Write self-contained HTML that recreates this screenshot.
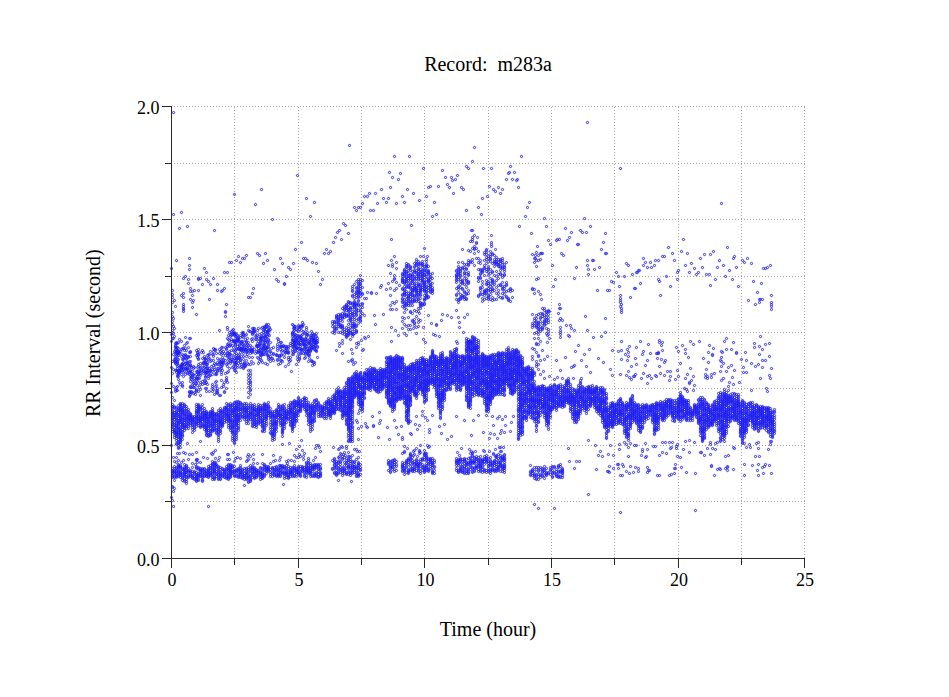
<!DOCTYPE html>
<html><head><meta charset="utf-8"><style>html,body{margin:0;padding:0;background:#fff;overflow:hidden}svg{display:block}</style></head>
<body><svg width="949" height="697" viewBox="0 0 949 697">
<rect width="949" height="697" fill="#fff"/>
<path d="M174 501.5H805M174 445.5H805M174 388.5H805M174 332.5H805M174 276.5H805M174 219.5H805M174 163.5H805M174 106.5H805M234.5 558V106M298.5 558V106M361.5 558V106M424.5 558V106M488.5 558V106M551.5 558V106M614.5 558V106M678.5 558V106M741.5 558V106M804.5 558V106" stroke="#a8a8a8" stroke-width="1" stroke-dasharray="1 2" fill="none" shape-rendering="crispEdges"/>
<defs><marker id="m" markerUnits="userSpaceOnUse" markerWidth="6" markerHeight="6" refX="3" refY="3" overflow="visible"><circle cx="3.5" cy="3.5" r="1.1" fill="none" stroke="#1e1ef0" stroke-width="0.9"/></marker></defs><path d="M171 268 171 334 171 341 171 367 171 383 171 392 171 445 171 497 172 290 172 294 172 297 172 302 172 312 172 316 172 321 172 324 172 330 172 332 172 338 172 361 172 373 172 397 172 404 172 406 172 407 172 408 172 411 172 412 172 413 172 414 172 415 172 417 172 418 172 419 172 420 172 422 172 423 172 424 172 426 172 427 172 429 172 431 172 468 172 470 172 471 172 472 172 473 172 475 172 476 172 477 172 486 172 487 172 500 173 112 173 214 173 318 173 326 173 333 173 338 173 354 173 369 173 386 173 457 173 491 173 506 174 300 174 328 174 336 174 351 174 359 174 361 174 400 174 406 174 407 174 410 174 412 174 414 174 415 174 416 174 417 174 419 174 422 174 424 174 425 174 427 174 429 174 430 174 431 174 432 174 433 174 435 174 437 174 461 174 466 174 468 174 470 174 471 174 472 174 473 174 476 174 477 174 480 174 488 175 306 175 343 175 345 175 346 175 347 175 349 175 352 175 356 175 358 175 359 175 361 175 362 175 363 175 370 175 389 175 391 176 260 176 342 176 343 176 347 176 349 176 351 176 352 176 353 176 355 176 364 176 370 176 372 176 387 176 390 176 407 176 408 176 411 176 412 176 413 176 414 176 415 176 417 176 418 176 419 176 420 176 422 176 423 176 425 176 426 176 427 176 428 176 430 176 431 176 432 176 433 176 434 176 435 176 436 176 438 176 440 176 443 176 444 176 457 176 462 176 467 176 468 176 470 176 471 176 473 176 474 176 475 176 476 176 477 177 343 177 347 177 350 177 351 177 352 177 353 177 356 177 359 177 361 177 362 177 363 177 366 177 368 177 370 177 375 177 376 177 386 177 390 177 453 178 342 178 348 178 351 178 352 178 353 178 355 178 359 178 365 178 370 178 372 178 373 178 374 178 376 178 379 178 405 178 408 178 409 178 410 178 412 178 414 178 415 178 416 178 418 178 420 178 421 178 422 178 423 178 424 178 425 178 427 178 428 178 429 178 430 178 432 178 433 178 434 178 436 178 437 178 439 178 441 178 442 178 443 178 445 178 447 178 448 178 460 178 464 178 465 178 466 178 467 178 468 178 470 178 471 178 472 178 474 178 475 178 476 179 228 179 339 179 352 179 353 179 370 179 371 179 372 179 382 179 453 180 351 180 366 180 367 180 369 180 370 180 371 180 384 180 403 180 404 180 405 180 406 180 407 180 408 180 409 180 410 180 411 180 412 180 414 180 415 180 416 180 417 180 418 180 419 180 420 180 421 180 422 180 424 180 427 180 428 180 430 180 431 180 432 180 433 180 434 180 435 180 436 180 437 180 438 180 439 180 440 180 441 180 442 180 444 180 447 180 465 180 466 180 467 180 468 180 471 180 472 180 473 180 474 180 475 180 477 181 212 181 295 181 341 181 349 181 356 181 364 181 365 181 366 181 367 181 369 181 374 181 462 182 348 182 354 182 359 182 363 182 364 182 365 182 367 182 370 182 382 182 385 182 386 182 403 182 405 182 407 182 408 182 409 182 410 182 411 182 412 182 413 182 414 182 417 182 418 182 419 182 421 182 422 182 423 182 424 182 425 182 426 182 427 182 429 182 431 182 432 182 434 182 435 182 436 182 439 182 468 182 469 182 471 182 474 182 475 182 477 182 478 182 480 183 278 183 293 183 297 183 304 183 306 183 308 183 309 183 311 183 348 183 355 183 358 183 359 183 362 183 368 183 369 183 372 183 376 183 452 183 460 184 345 184 350 184 356 184 364 184 371 184 404 184 405 184 406 184 408 184 410 184 411 184 413 184 414 184 415 184 416 184 418 184 419 184 420 184 422 184 424 184 425 184 426 184 427 184 428 184 430 184 464 184 467 184 468 184 469 184 470 184 471 184 472 184 473 184 474 184 475 184 476 184 478 184 480 184 481 185 276 185 337 185 348 185 354 185 355 185 357 185 363 185 366 185 368 185 374 185 453 186 343 186 350 186 358 186 359 186 362 186 365 186 368 186 369 186 406 186 408 186 410 186 411 186 413 186 414 186 416 186 417 186 418 186 419 186 421 186 422 186 424 186 425 186 426 186 428 186 465 186 466 186 467 186 468 186 470 186 471 186 472 186 474 186 476 186 477 186 479 186 481 186 483 187 226 187 342 187 356 187 362 187 363 187 368 187 369 187 372 187 373 187 443 188 279 188 283 188 347 188 356 188 357 188 364 188 365 188 370 188 409 188 411 188 412 188 414 188 415 188 416 188 417 188 418 188 419 188 420 188 421 188 423 188 424 188 426 188 428 188 459 188 468 188 470 188 471 188 472 188 475 188 476 188 477 189 258 189 265 189 269 189 338 189 352 189 361 189 367 189 372 189 374 189 391 189 392 189 395 189 396 189 454 190 288 190 291 190 299 190 338 190 351 190 352 190 356 190 361 190 364 190 365 190 366 190 370 190 371 190 372 190 375 190 378 190 381 190 386 190 387 190 392 190 394 190 413 190 414 190 415 190 416 190 417 190 418 190 419 190 420 190 422 190 423 190 425 190 470 190 471 190 472 190 474 190 475 190 476 191 367 191 376 191 377 191 379 191 387 191 391 191 392 192 291 192 295 192 302 192 307 192 371 192 374 192 377 192 384 192 416 192 417 192 418 192 419 192 420 192 421 192 422 192 424 192 425 192 427 192 429 192 432 192 454 192 463 192 467 192 471 192 473 192 475 192 476 192 477 192 478 193 300 193 366 193 368 193 374 193 375 193 381 193 383 193 387 193 393 194 290 194 367 194 378 194 380 194 385 194 387 194 392 194 416 194 418 194 419 194 421 194 422 194 424 194 425 194 427 194 428 194 430 194 471 194 472 194 473 194 476 194 478 194 479 195 383 195 394 195 464 196 314 196 350 196 355 196 371 196 374 196 377 196 378 196 380 196 383 196 389 196 390 196 391 196 404 196 406 196 408 196 410 196 411 196 412 196 413 196 415 196 416 196 417 196 418 196 419 196 421 196 422 196 423 196 424 196 426 196 452 196 459 196 460 196 466 196 467 196 468 196 472 196 474 196 475 196 476 196 477 196 478 196 479 196 480 196 481 197 352 197 354 197 357 197 367 197 371 197 372 197 376 197 378 197 381 197 385 197 459 197 462 198 278 198 279 198 290 198 349 198 352 198 354 198 355 198 358 198 359 198 364 198 366 198 370 198 372 198 374 198 378 198 391 198 404 198 405 198 406 198 407 198 408 198 409 198 410 198 411 198 412 198 413 198 415 198 416 198 418 198 419 198 420 198 421 198 423 198 425 198 467 198 468 198 469 198 473 198 474 198 475 198 476 198 477 198 479 198 480 199 371 199 374 199 378 199 387 200 278 200 363 200 367 200 368 200 371 200 373 200 375 200 382 200 384 200 389 200 395 200 406 200 407 200 408 200 409 200 412 200 415 200 416 200 417 200 418 200 419 200 420 200 421 200 422 200 423 200 425 200 426 200 427 200 441 200 462 200 468 200 469 200 470 200 471 200 472 200 474 200 475 200 476 201 352 201 370 202 284 202 350 202 358 202 365 202 381 202 384 202 404 202 407 202 410 202 412 202 413 202 414 202 416 202 417 202 418 202 419 202 421 202 424 202 425 202 426 202 468 202 469 202 470 202 472 202 473 202 475 202 476 202 477 202 479 202 480 202 481 203 352 203 362 203 363 203 368 203 370 203 371 203 373 203 457 204 268 204 356 204 358 204 361 204 362 204 363 204 367 204 380 204 383 204 408 204 410 204 412 204 413 204 414 204 415 204 416 204 417 204 418 204 419 204 420 204 421 204 423 204 424 204 425 204 426 204 427 204 429 204 468 204 469 204 471 204 472 204 473 204 475 204 476 205 358 205 359 205 366 205 372 205 373 205 376 205 377 205 380 205 383 205 388 206 272 206 279 206 360 206 363 206 364 206 368 206 370 206 371 206 372 206 375 206 382 206 388 206 391 206 411 206 412 206 413 206 414 206 415 206 416 206 417 206 418 206 419 206 421 206 422 206 423 206 425 206 426 206 427 206 428 206 429 206 430 206 431 206 432 206 434 206 435 206 470 206 471 206 473 206 474 206 475 206 476 207 355 207 362 207 364 207 367 207 368 207 372 207 384 207 458 208 281 208 354 208 357 208 359 208 370 208 373 208 376 208 378 208 413 208 414 208 416 208 417 208 418 208 419 208 420 208 421 208 422 208 424 208 425 208 426 208 428 208 430 208 432 208 434 208 435 208 436 208 466 208 468 208 469 208 470 208 471 208 472 208 473 208 474 208 475 208 476 208 477 208 506 209 299 209 354 209 358 209 368 209 370 209 372 209 375 209 391 210 284 210 351 210 361 210 370 210 371 210 375 210 411 210 412 210 413 210 414 210 415 210 416 210 417 210 418 210 421 210 422 210 423 210 425 210 426 210 428 210 430 210 431 210 433 210 434 210 435 210 465 210 467 210 468 210 470 210 472 210 473 210 474 210 475 211 360 211 366 211 453 212 354 212 369 212 371 212 374 212 384 212 386 212 388 212 391 212 408 212 410 212 411 212 412 212 413 212 414 212 415 212 416 212 417 212 418 212 419 212 420 212 421 212 423 212 424 212 425 212 426 212 428 212 429 212 430 212 431 212 454 212 461 212 463 212 464 212 466 212 467 212 468 212 470 212 471 212 473 212 474 212 476 212 477 212 479 213 278 213 348 213 351 213 354 213 356 213 360 213 365 213 389 213 452 213 464 214 230 214 349 214 363 214 367 214 369 214 394 214 413 214 414 214 415 214 416 214 418 214 419 214 420 214 421 214 422 214 423 214 425 214 426 214 428 214 429 214 430 214 462 214 463 214 465 214 467 214 468 214 469 214 470 214 471 214 472 214 473 214 476 214 477 214 478 214 479 215 349 215 350 215 364 215 371 215 374 215 382 215 386 215 450 215 458 215 462 215 465 216 353 216 373 216 374 216 381 216 385 216 390 216 392 216 413 216 414 216 416 216 417 216 419 216 420 216 421 216 423 216 425 216 427 216 429 216 430 216 432 216 433 216 464 216 465 216 466 216 469 216 471 216 473 216 474 216 476 217 284 217 290 217 358 217 362 217 364 217 368 217 370 217 371 217 388 217 390 217 392 217 393 218 364 218 368 218 410 218 412 218 414 218 415 218 416 218 417 218 419 218 420 218 421 218 422 218 424 218 425 218 427 218 428 218 429 218 431 218 432 218 434 218 435 218 437 218 439 218 441 218 460 218 466 218 467 218 468 218 470 218 471 218 472 218 474 218 475 218 477 218 478 218 479 219 330 219 349 219 353 219 360 219 370 219 395 219 457 220 351 220 359 220 361 220 362 220 363 220 366 220 369 220 395 220 408 220 410 220 411 220 412 220 413 220 415 220 416 220 418 220 419 220 420 220 421 220 422 220 423 220 424 220 425 220 426 220 428 220 430 220 431 220 433 220 467 220 469 220 472 220 473 220 474 220 475 220 476 220 478 220 479 221 291 221 347 221 350 221 354 221 362 221 364 221 366 221 368 221 372 221 374 221 380 221 387 222 290 222 347 222 353 222 357 222 362 222 365 222 370 222 410 222 411 222 412 222 414 222 415 222 417 222 418 222 419 222 421 222 422 222 423 222 424 222 425 222 426 222 468 222 469 222 471 222 474 222 475 222 476 223 351 223 359 223 360 223 362 223 363 223 384 223 386 224 272 224 288 224 353 224 382 224 391 224 392 224 407 224 408 224 409 224 411 224 412 224 413 224 415 224 416 224 418 224 420 224 422 224 469 224 470 224 471 224 472 224 473 224 474 224 476 224 477 225 311 225 312 225 316 225 347 225 355 225 360 225 373 226 304 226 348 226 349 226 364 226 377 226 379 226 380 226 388 226 403 226 406 226 407 226 408 226 409 226 410 226 412 226 413 226 414 226 415 226 416 226 418 226 419 226 421 226 466 226 468 226 469 226 470 226 473 226 474 226 476 226 477 226 478 227 272 227 327 227 329 227 338 227 344 227 346 227 352 227 353 227 355 227 356 227 363 227 366 227 372 227 382 227 454 227 459 228 335 228 339 228 343 228 345 228 359 228 362 228 371 228 404 228 405 228 407 228 409 228 410 228 411 228 413 228 414 228 415 228 416 228 417 228 418 228 419 228 420 228 421 228 423 228 425 228 427 228 454 228 464 228 465 228 467 228 468 228 469 228 470 228 472 228 473 228 475 228 476 228 477 228 478 228 479 229 262 229 332 229 340 229 346 229 351 229 353 229 354 229 357 229 358 229 368 229 459 230 334 230 336 230 344 230 345 230 354 230 361 230 363 230 403 230 405 230 406 230 407 230 409 230 410 230 412 230 413 230 415 230 416 230 418 230 419 230 420 230 421 230 422 230 424 230 425 230 427 230 428 230 430 230 464 230 465 230 466 230 467 230 468 230 469 230 470 230 471 230 472 230 473 230 474 230 475 230 476 230 477 231 262 231 331 231 335 231 339 231 341 231 350 231 355 231 359 231 361 232 330 232 333 232 334 232 345 232 359 232 361 232 367 232 404 232 405 232 407 232 409 232 410 232 411 232 412 232 413 232 415 232 417 232 420 232 421 232 422 232 424 232 425 232 426 232 427 232 428 232 430 232 431 232 432 232 433 232 436 232 438 232 440 232 465 232 466 232 467 232 469 232 471 232 472 232 473 233 329 233 333 233 340 233 341 233 347 233 350 233 357 233 366 233 452 234 194 234 332 234 333 234 334 234 335 234 340 234 341 234 342 234 351 234 354 234 358 234 362 234 364 234 368 234 370 234 402 234 403 234 405 234 407 234 408 234 409 234 410 234 411 234 412 234 414 234 415 234 416 234 417 234 419 234 420 234 421 234 423 234 424 234 425 234 427 234 428 234 431 234 432 234 434 234 435 234 437 234 439 234 440 234 442 234 443 234 461 234 466 234 470 234 471 234 472 234 474 234 475 234 476 235 333 235 336 235 342 235 344 235 345 235 350 235 360 235 362 235 363 235 364 235 367 235 370 235 458 236 260 236 334 236 336 236 339 236 340 236 342 236 348 236 349 236 353 236 355 236 357 236 358 236 359 236 362 236 372 236 401 236 402 236 403 236 405 236 406 236 407 236 408 236 409 236 410 236 411 236 413 236 414 236 415 236 416 236 417 236 418 236 419 236 420 236 421 236 422 236 423 236 424 236 425 236 427 236 429 236 430 236 432 236 433 236 435 236 437 236 439 236 469 236 470 236 471 236 472 236 475 236 476 237 335 237 338 237 340 237 346 237 358 237 365 237 367 237 457 238 256 238 337 238 338 238 339 238 340 238 341 238 348 238 349 238 355 238 357 238 360 238 363 238 401 238 402 238 404 238 405 238 406 238 408 238 409 238 410 238 412 238 414 238 415 238 416 238 417 238 418 238 419 238 420 238 421 238 423 238 425 238 427 238 428 238 430 238 468 238 469 238 470 238 471 238 474 238 475 238 476 238 477 239 341 239 344 239 345 239 347 239 349 239 354 239 357 239 358 240 262 240 335 240 337 240 348 240 349 240 352 240 359 240 360 240 362 240 367 240 402 240 403 240 404 240 407 240 408 240 409 240 411 240 413 240 414 240 416 240 417 240 420 240 458 240 465 240 467 240 468 240 470 240 471 240 472 240 473 240 474 240 476 240 477 241 341 241 342 241 343 241 348 241 349 241 350 241 356 241 364 241 366 242 258 242 332 242 333 242 336 242 341 242 344 242 347 242 348 242 404 242 405 242 407 242 408 242 410 242 411 242 414 242 416 242 417 242 469 242 470 242 472 242 473 242 474 242 476 242 477 242 478 243 332 243 334 243 335 243 337 243 345 243 349 243 350 243 351 243 353 243 356 243 359 243 364 243 367 243 368 244 258 244 342 244 345 244 348 244 349 244 362 244 363 244 364 244 366 244 403 244 405 244 407 244 408 244 409 244 410 244 412 244 413 244 415 244 416 244 417 244 419 244 468 244 470 244 473 244 475 244 476 244 477 244 479 244 485 245 335 245 339 245 349 245 365 245 366 246 255 246 334 246 341 246 342 246 345 246 347 246 349 246 351 246 352 246 356 246 360 246 403 246 405 246 407 246 408 246 409 246 410 246 411 246 412 246 413 246 415 246 416 246 417 246 419 246 421 246 423 246 461 246 468 246 469 246 471 246 472 246 473 246 474 246 475 246 477 246 478 246 479 247 338 247 344 247 348 247 351 247 354 247 363 247 456 247 460 248 297 248 326 248 330 248 342 248 345 248 350 248 364 248 370 248 374 248 377 248 380 248 383 248 387 248 392 248 397 248 405 248 407 248 408 248 410 248 412 248 414 248 415 248 416 248 417 248 419 248 420 248 423 248 454 248 459 248 467 248 469 248 471 248 472 248 475 248 476 248 477 248 478 248 481 248 482 249 331 249 347 249 351 249 357 250 297 250 331 250 345 250 349 250 350 250 353 250 364 250 370 250 373 250 375 250 378 250 381 250 382 250 384 250 386 250 389 250 390 250 394 250 403 250 405 250 407 250 408 250 411 250 412 250 413 250 414 250 416 250 417 250 419 250 456 250 465 250 468 250 469 250 470 250 473 250 475 250 476 250 478 250 479 250 480 250 481 251 339 251 349 251 351 251 361 252 293 252 328 252 332 252 333 252 334 252 338 252 341 252 347 252 349 252 350 252 351 252 352 252 357 252 405 252 406 252 408 252 409 252 410 252 412 252 413 252 414 252 416 252 417 252 419 252 420 252 422 252 423 252 425 252 426 252 466 252 467 252 468 252 469 252 471 252 472 252 473 252 474 252 477 253 288 253 328 253 330 253 331 253 363 253 454 253 459 253 463 254 328 254 330 254 331 254 349 254 404 254 406 254 408 254 409 254 410 254 411 254 414 254 415 254 416 254 418 254 419 254 420 254 422 254 423 254 424 254 426 254 467 254 468 254 469 254 470 254 471 254 473 254 474 254 476 254 477 254 478 255 204 255 333 255 336 255 339 255 353 256 336 256 339 256 345 256 346 256 351 256 407 256 409 256 410 256 411 256 413 256 414 256 415 256 417 256 419 256 421 256 422 256 424 256 425 256 427 256 469 256 470 256 471 256 472 256 473 256 475 256 476 256 477 257 253 257 330 257 335 257 343 257 345 257 346 257 352 257 357 257 463 258 328 258 338 258 341 258 346 258 348 258 350 258 351 258 352 258 358 258 363 258 404 258 406 258 407 258 408 258 409 258 410 258 411 258 412 258 413 258 414 258 415 258 416 258 418 258 419 258 421 258 422 258 423 258 470 258 471 258 472 258 474 258 475 259 255 259 334 259 344 259 345 259 361 260 337 260 338 260 340 260 341 260 343 260 344 260 349 260 351 260 352 260 354 260 355 260 357 260 359 260 405 260 407 260 408 260 409 260 410 260 411 260 413 260 415 260 417 260 418 260 420 260 421 260 424 260 467 260 468 260 471 260 472 260 473 260 474 260 476 260 477 260 479 261 189 261 328 261 333 261 336 261 337 261 338 261 340 261 347 261 348 261 350 261 352 261 355 261 360 262 327 262 338 262 341 262 352 262 354 262 362 262 405 262 407 262 408 262 409 262 411 262 412 262 414 262 415 262 417 262 419 262 420 262 421 262 422 262 423 262 425 262 426 262 427 262 430 262 431 262 454 262 463 262 468 262 469 262 472 262 473 262 474 262 475 262 476 262 477 262 478 263 263 263 330 263 332 263 335 263 344 263 345 263 347 263 348 263 349 263 352 263 354 264 326 264 327 264 328 264 330 264 336 264 337 264 340 264 341 264 344 264 345 264 347 264 349 264 354 264 403 264 404 264 405 264 406 264 407 264 408 264 409 264 410 264 411 264 413 264 414 264 416 264 417 264 418 264 420 264 422 264 424 264 425 264 427 264 428 264 429 264 431 264 464 264 465 264 466 264 467 264 469 264 470 264 474 264 475 264 476 265 253 265 327 265 331 265 333 265 336 265 338 265 340 265 342 265 346 265 348 265 350 265 363 266 324 266 325 266 326 266 329 266 334 266 337 266 347 266 348 266 351 266 352 266 404 266 405 266 406 266 408 266 409 266 410 266 411 266 413 266 414 266 415 266 416 266 417 266 418 266 419 266 421 266 423 266 425 266 466 266 467 266 468 266 469 266 470 266 471 266 473 267 260 267 331 267 332 267 333 267 336 267 341 267 342 267 347 267 354 267 355 267 364 268 324 268 327 268 330 268 331 268 334 268 339 268 340 268 344 268 345 268 347 268 349 268 355 268 357 268 359 268 402 268 405 268 406 268 407 268 408 268 410 268 411 268 412 268 413 268 415 268 466 268 467 268 468 268 469 268 470 268 471 269 327 269 330 269 335 269 351 269 358 270 329 270 342 270 351 270 356 270 361 270 408 270 411 270 412 270 413 270 415 270 416 270 417 270 419 270 422 270 424 270 427 270 429 270 432 270 433 270 463 270 469 270 472 270 474 270 476 271 348 271 353 271 358 272 219 272 358 272 411 272 413 272 414 272 415 272 416 272 417 272 420 272 421 272 423 272 424 272 425 272 427 272 429 272 431 272 432 272 433 272 434 272 435 272 436 272 438 272 440 272 467 272 468 272 469 272 472 272 473 272 476 273 347 273 353 273 354 273 360 273 455 273 461 274 269 274 411 274 413 274 415 274 416 274 417 274 418 274 420 274 421 274 422 274 423 274 424 274 425 274 427 274 428 274 429 274 430 274 431 274 433 274 434 274 435 274 437 274 439 274 467 274 469 274 470 274 471 274 473 274 474 274 475 275 460 276 279 276 354 276 355 276 409 276 410 276 411 276 412 276 414 276 415 276 416 276 417 276 419 276 421 276 422 276 423 276 424 276 425 276 427 276 428 276 431 276 466 276 467 276 469 276 470 276 471 276 474 276 475 276 476 277 338 277 344 277 346 277 348 277 350 277 355 277 359 277 360 278 281 278 339 278 341 278 364 278 404 278 406 278 407 278 409 278 411 278 412 278 413 278 414 278 415 278 417 278 420 278 468 278 469 278 470 278 472 278 473 278 474 278 475 278 476 279 355 279 356 279 357 279 460 279 465 280 258 280 342 280 345 280 346 280 347 280 349 280 360 280 363 280 406 280 407 280 409 280 410 280 411 280 413 280 414 280 415 280 416 280 417 280 418 280 420 280 422 280 423 280 425 280 457 280 465 280 466 280 467 280 469 280 470 280 472 280 473 280 475 280 476 281 342 281 346 281 351 281 354 281 355 281 360 282 263 282 346 282 350 282 361 282 405 282 406 282 408 282 409 282 410 282 413 282 414 282 416 282 418 282 419 282 420 282 422 282 423 282 424 282 425 282 426 282 428 282 429 282 430 282 431 282 432 282 433 282 436 282 444 282 465 282 466 282 467 282 468 282 471 282 472 282 473 283 345 283 346 283 484 284 283 284 284 284 347 284 351 284 354 284 357 284 404 284 407 284 408 284 410 284 411 284 412 284 413 284 415 284 416 284 417 284 418 284 419 284 421 284 422 284 423 284 424 284 426 284 428 284 466 284 467 284 468 284 471 284 472 284 473 284 474 284 476 284 478 285 346 285 350 285 352 285 366 286 276 286 346 286 348 286 349 286 352 286 410 286 411 286 413 286 414 286 415 286 416 286 417 286 418 286 419 286 422 286 461 286 465 286 468 286 469 286 471 286 472 286 473 286 474 286 475 286 477 287 347 287 352 287 463 288 267 288 346 288 348 288 351 288 352 288 353 288 357 288 359 288 364 288 405 288 407 288 409 288 411 288 412 288 413 288 414 288 416 288 418 288 419 288 460 288 466 288 468 288 471 288 472 288 474 288 475 288 476 288 477 288 478 289 361 289 443 290 269 290 343 290 345 290 357 290 360 290 402 290 404 290 405 290 407 290 408 290 409 290 410 290 411 290 412 290 413 290 415 290 416 290 417 290 419 290 421 290 422 290 424 290 425 290 467 290 469 290 470 290 471 290 472 290 473 290 474 290 476 291 371 291 460 292 324 292 332 292 333 292 334 292 336 292 339 292 340 292 342 292 344 292 346 292 349 292 351 292 354 292 402 292 403 292 404 292 407 292 408 292 409 292 411 292 412 292 413 292 414 292 416 292 417 292 418 292 420 292 421 292 422 292 423 292 424 292 425 292 426 292 427 292 428 292 429 292 431 292 467 292 468 292 470 292 471 292 472 292 473 292 475 292 476 293 263 293 325 293 328 293 331 293 335 293 338 293 340 293 343 293 346 293 352 293 354 294 326 294 327 294 328 294 330 294 334 294 341 294 342 294 343 294 345 294 346 294 348 294 351 294 400 294 401 294 402 294 404 294 405 294 406 294 407 294 408 294 410 294 412 294 413 294 414 294 415 294 416 294 417 294 418 294 419 294 420 294 421 294 423 294 424 294 426 294 455 294 461 294 465 294 467 294 468 294 469 294 470 294 473 294 475 294 476 295 249 295 326 295 334 295 336 295 337 295 339 295 341 295 342 295 344 295 345 295 348 295 351 296 329 296 335 296 338 296 339 296 340 296 343 296 347 296 348 296 364 296 401 296 402 296 403 296 404 296 405 296 407 296 410 296 411 296 413 296 414 296 415 296 416 296 418 296 420 296 421 296 449 296 457 296 468 296 469 296 470 296 471 296 472 296 474 296 476 297 175 297 330 297 337 297 340 297 347 297 348 297 350 297 356 297 359 298 325 298 327 298 331 298 335 298 336 298 340 298 342 298 343 298 344 298 353 298 361 298 397 298 398 298 400 298 401 298 402 298 403 298 404 298 405 298 406 298 408 298 410 298 411 298 412 298 415 298 457 298 466 298 467 298 468 298 470 298 471 298 472 298 473 298 474 299 326 299 327 299 329 299 337 299 344 299 348 299 356 299 358 299 359 299 446 299 454 300 326 300 336 300 337 300 338 300 340 300 342 300 344 300 346 300 348 300 350 300 353 300 400 300 401 300 403 300 404 300 405 300 406 300 407 300 408 300 409 300 410 300 411 300 456 300 466 300 468 300 471 300 472 300 474 300 475 300 476 301 242 301 325 301 327 301 330 301 335 301 338 301 340 301 349 301 350 301 353 301 440 302 322 302 325 302 326 302 334 302 338 302 339 302 341 302 344 302 349 302 399 302 402 302 404 302 405 302 406 302 450 302 466 302 467 302 468 302 469 302 470 302 471 303 258 303 324 303 331 303 340 303 341 303 343 303 344 303 350 303 353 303 456 303 459 304 332 304 333 304 342 304 344 304 345 304 347 304 348 304 351 304 358 304 397 304 398 304 399 304 400 304 402 304 403 304 405 304 406 304 407 304 409 304 453 304 467 304 469 304 470 304 472 304 473 304 475 304 476 305 258 305 338 305 339 305 341 305 345 305 347 305 353 305 354 305 357 306 198 306 327 306 329 306 334 306 336 306 339 306 341 306 343 306 346 306 349 306 351 306 398 306 400 306 402 306 404 306 405 306 406 306 408 306 409 306 410 306 411 306 412 306 415 306 462 306 463 306 465 306 466 306 467 306 468 306 469 306 470 306 471 306 472 306 475 306 477 307 260 307 332 307 334 307 335 307 344 307 348 307 350 307 352 307 353 308 340 308 343 308 350 308 351 308 354 308 355 308 361 308 402 308 404 308 405 308 406 308 408 308 409 308 411 308 413 308 414 308 415 308 417 308 418 308 420 308 421 308 424 308 458 308 460 308 462 308 463 308 465 308 467 308 468 308 469 308 470 308 471 308 472 308 473 309 339 309 341 309 342 309 343 309 347 309 348 309 350 309 353 309 355 309 358 310 216 310 335 310 337 310 343 310 346 310 350 310 351 310 405 310 406 310 407 310 408 310 409 310 411 310 412 310 413 310 414 310 415 310 416 310 417 310 418 310 420 310 421 310 422 310 423 310 425 310 427 310 429 310 431 310 463 310 465 310 467 310 468 310 470 310 471 310 472 310 473 310 474 310 476 311 331 311 335 311 337 311 339 311 340 311 342 311 345 311 347 311 348 311 349 311 360 311 361 312 262 312 333 312 338 312 345 312 347 312 361 312 365 312 403 312 405 312 406 312 407 312 408 312 409 312 410 312 411 312 412 312 413 312 415 312 418 312 419 312 420 312 421 312 422 312 424 312 426 312 429 312 465 312 466 312 467 312 468 312 469 312 471 312 475 312 476 313 334 313 335 313 337 313 338 313 339 313 340 313 341 313 342 313 344 313 346 313 362 313 460 314 202 314 334 314 339 314 340 314 342 314 347 314 348 314 349 314 362 314 364 314 400 314 401 314 404 314 406 314 407 314 408 314 410 314 411 314 412 314 413 314 414 314 415 314 417 314 418 314 420 314 421 314 464 314 465 314 466 314 467 314 468 314 469 314 473 314 474 314 475 314 476 315 336 315 339 315 341 315 342 315 343 315 345 315 346 315 350 315 448 315 457 316 263 316 333 316 336 316 341 316 342 316 343 316 350 316 351 316 399 316 400 316 402 316 404 316 405 316 406 316 407 316 409 316 410 316 445 316 464 316 465 316 466 316 467 316 472 316 473 316 475 316 476 317 338 317 340 317 342 317 346 317 347 317 357 318 271 318 402 318 403 318 405 318 406 318 408 318 409 318 412 318 414 318 416 318 445 318 464 318 465 318 466 318 468 318 469 318 471 318 474 318 476 318 477 319 447 320 284 320 405 320 406 320 407 320 409 320 410 320 412 320 413 320 415 320 416 320 451 320 464 320 467 320 468 320 469 320 472 320 473 320 474 320 475 320 476 322 279 322 406 322 407 322 408 322 409 322 410 322 411 322 412 322 413 322 415 322 416 324 253 324 403 324 405 324 407 324 408 324 409 324 411 324 413 324 414 324 416 324 418 326 249 326 401 326 402 326 403 326 404 326 406 326 407 326 408 326 410 326 412 326 414 326 416 326 418 328 253 328 398 328 400 328 401 328 402 328 403 328 404 328 406 328 408 328 409 328 410 328 411 328 412 328 413 328 414 328 415 330 251 330 399 330 401 330 402 330 403 330 404 330 405 330 406 330 407 330 409 330 410 330 411 330 412 330 413 330 414 330 415 330 416 330 418 332 321 332 323 332 326 332 332 332 396 332 398 332 400 332 401 332 403 332 404 332 405 332 406 332 407 332 408 332 409 332 410 332 411 332 412 332 413 332 460 332 468 332 469 333 242 333 447 334 321 334 322 334 324 334 327 334 328 334 330 334 331 334 333 334 394 334 395 334 396 334 397 334 398 334 399 334 400 334 402 334 404 334 406 334 407 334 408 334 409 334 410 334 411 334 412 334 413 334 458 334 459 334 461 334 462 334 464 334 465 334 467 334 468 334 472 334 473 335 237 336 315 336 316 336 317 336 318 336 321 336 322 336 326 336 328 336 329 336 350 336 389 336 391 336 392 336 393 336 395 336 397 336 398 336 399 336 400 336 401 336 402 336 403 336 404 336 405 336 406 336 408 336 409 336 461 336 463 336 464 336 466 336 467 336 470 336 472 336 473 336 474 336 475 337 232 338 314 338 317 338 318 338 319 338 320 338 322 338 323 338 324 338 326 338 332 338 387 338 390 338 391 338 392 338 393 338 394 338 395 338 396 338 397 338 399 338 400 338 402 338 404 338 406 338 408 338 409 338 449 338 457 338 461 338 462 338 465 338 468 338 469 338 472 338 473 338 480 339 230 339 343 339 346 339 448 339 456 339 458 340 314 340 315 340 316 340 318 340 320 340 324 340 325 340 326 340 327 340 332 340 390 340 391 340 392 340 394 340 395 340 396 340 397 340 398 340 399 340 400 340 401 340 402 340 403 340 404 340 405 340 406 340 407 340 409 340 410 340 453 340 461 340 462 340 464 340 467 340 469 340 470 340 472 341 239 341 446 341 454 342 308 342 313 342 316 342 317 342 318 342 321 342 325 342 326 342 327 342 328 342 331 342 333 342 340 342 343 342 353 342 391 342 392 342 393 342 395 342 396 342 397 342 398 342 400 342 402 342 404 342 406 342 407 342 409 342 410 342 411 342 412 342 414 342 415 342 416 342 418 342 447 342 456 342 458 342 459 342 467 342 468 342 470 342 471 342 473 342 475 343 223 343 454 344 306 344 307 344 309 344 310 344 313 344 314 344 315 344 317 344 329 344 331 344 334 344 387 344 389 344 390 344 391 344 392 344 393 344 394 344 395 344 396 344 397 344 398 344 399 344 400 344 402 344 403 344 404 344 405 344 406 344 407 344 408 344 410 344 411 344 412 344 413 344 414 344 415 344 452 344 457 344 462 344 465 344 468 344 469 344 470 344 471 344 473 345 225 345 455 346 304 346 305 346 306 346 307 346 308 346 310 346 314 346 315 346 316 346 327 346 330 346 332 346 334 346 335 346 336 346 337 346 382 346 383 346 385 346 387 346 389 346 391 346 392 346 393 346 394 346 396 346 398 346 400 346 401 346 402 346 404 346 406 346 407 346 408 346 410 346 411 346 412 346 413 346 414 346 415 346 417 346 419 346 420 346 421 346 423 346 424 346 446 346 448 346 458 346 460 346 462 346 463 346 465 346 468 346 472 346 473 346 474 348 233 348 301 348 302 348 304 348 307 348 309 348 310 348 311 348 314 348 315 348 316 348 320 348 324 348 328 348 330 348 331 348 333 348 334 348 335 348 361 348 378 348 379 348 380 348 381 348 382 348 384 348 385 348 386 348 388 348 389 348 390 348 391 348 392 348 393 348 394 348 395 348 396 348 397 348 398 348 399 348 400 348 401 348 402 348 403 348 404 348 405 348 406 348 407 348 408 348 409 348 410 348 411 348 412 348 413 348 414 348 415 348 416 348 417 348 418 348 419 348 420 348 422 348 423 348 424 348 425 348 426 348 427 348 428 348 429 348 430 348 433 348 435 348 437 348 440 348 441 348 452 348 456 348 459 348 460 348 462 348 465 348 466 348 467 348 468 348 471 348 472 348 474 349 145 349 456 350 302 350 303 350 307 350 308 350 309 350 312 350 314 350 317 350 318 350 319 350 320 350 323 350 327 350 330 350 332 350 333 350 339 350 378 350 379 350 381 350 382 350 383 350 384 350 385 350 386 350 387 350 388 350 389 350 390 350 391 350 392 350 393 350 394 350 395 350 396 350 397 350 398 350 399 350 400 350 401 350 402 350 403 350 404 350 405 350 406 350 407 350 408 350 409 350 410 350 411 350 412 350 414 350 415 350 417 350 418 350 419 350 420 350 422 350 424 350 425 350 427 350 428 350 430 350 431 350 432 350 434 350 435 350 437 350 438 350 439 350 440 350 441 350 457 350 459 350 461 350 463 350 465 350 467 350 468 350 471 350 472 350 473 350 475 351 349 351 360 351 481 352 286 352 288 352 290 352 291 352 295 352 296 352 303 352 304 352 307 352 311 352 313 352 314 352 315 352 317 352 321 352 323 352 325 352 326 352 327 352 331 352 333 352 334 352 336 352 353 352 359 352 361 352 376 352 377 352 378 352 379 352 380 352 381 352 382 352 383 352 384 352 386 352 387 352 388 352 389 352 390 352 392 352 393 352 394 352 395 352 396 352 397 352 398 352 399 352 400 352 401 352 402 352 403 352 405 352 406 352 407 352 409 352 411 352 412 352 414 352 416 352 418 352 420 352 422 352 423 352 426 352 427 352 429 352 431 352 433 352 435 352 437 352 439 352 441 352 455 352 461 352 462 352 465 352 466 352 467 352 469 352 470 352 472 352 473 353 334 353 364 354 207 354 284 354 294 354 298 354 301 354 302 354 303 354 304 354 305 354 306 354 307 354 309 354 312 354 314 354 317 354 319 354 323 354 324 354 325 354 326 354 327 354 329 354 333 354 373 354 374 354 376 354 377 354 378 354 379 354 381 354 382 354 383 354 384 354 385 354 386 354 387 354 388 354 389 354 390 354 391 354 392 354 393 354 394 354 395 354 396 354 397 354 449 354 461 354 462 354 464 354 466 354 467 354 468 354 470 354 472 355 362 356 210 356 281 356 287 356 288 356 291 356 292 356 293 356 295 356 297 356 303 356 304 356 305 356 308 356 309 356 311 356 312 356 314 356 315 356 320 356 325 356 326 356 330 356 331 356 332 356 343 356 347 356 371 356 373 356 374 356 375 356 376 356 377 356 378 356 379 356 380 356 381 356 383 356 385 356 387 356 388 356 390 356 391 356 392 356 393 356 394 356 395 356 420 356 449 356 459 356 466 356 467 356 468 356 470 356 472 356 473 356 475 356 476 357 422 357 451 358 207 358 279 358 281 358 283 358 284 358 286 358 287 358 289 358 290 358 291 358 292 358 293 358 294 358 296 358 297 358 300 358 301 358 304 358 305 358 310 358 318 358 319 358 323 358 342 358 344 358 374 358 375 358 376 358 377 358 378 358 379 358 380 358 381 358 382 358 383 358 384 358 385 358 386 358 387 358 389 358 391 358 392 358 393 358 394 358 395 358 396 358 397 358 398 358 399 358 401 358 402 358 404 358 413 358 428 358 439 358 457 358 462 358 463 358 464 358 465 358 467 358 468 358 470 358 473 358 474 358 475 358 476 359 410 359 451 360 207 360 275 360 279 360 281 360 283 360 284 360 286 360 288 360 290 360 292 360 293 360 296 360 304 360 307 360 310 360 311 360 314 360 316 360 317 360 318 360 320 360 321 360 372 360 373 360 374 360 376 360 377 360 378 360 379 360 380 360 382 360 384 360 385 360 386 360 387 360 388 360 390 360 392 360 393 360 394 360 395 360 396 360 397 360 398 360 399 360 400 360 402 360 403 360 404 360 405 360 406 360 408 360 464 360 467 360 469 360 470 360 474 361 340 361 426 362 203 362 280 362 287 362 293 362 294 362 303 362 304 362 307 362 313 362 350 362 376 362 377 362 378 362 379 362 380 362 381 362 382 362 384 362 386 362 387 362 388 362 389 362 391 362 392 362 393 362 394 362 395 362 396 362 398 362 400 362 401 362 402 362 403 362 404 362 405 362 406 362 408 362 409 362 411 363 349 364 196 364 298 364 315 364 337 364 372 364 373 364 374 364 375 364 377 364 378 364 379 364 380 364 382 364 383 364 384 364 385 364 386 364 387 364 388 364 389 364 391 364 392 364 393 364 394 364 397 364 398 365 338 365 423 366 298 366 369 366 372 366 373 366 374 366 375 366 376 366 378 366 379 366 380 366 381 366 383 366 385 366 387 366 388 366 426 367 196 367 292 367 427 368 336 368 369 368 370 368 372 368 373 368 374 368 375 368 376 368 377 368 378 368 379 368 380 368 381 368 382 368 384 368 385 368 386 368 387 368 388 368 389 369 193 370 210 370 367 370 370 370 371 370 372 370 373 370 374 370 375 370 376 370 377 370 378 370 379 370 380 370 381 370 382 370 383 370 384 370 385 370 386 370 387 370 388 370 390 371 292 371 293 372 368 372 369 372 370 372 372 372 373 372 374 372 375 372 376 372 377 372 378 372 379 372 380 372 381 372 382 372 383 372 385 372 386 372 416 373 210 373 425 373 426 374 315 374 368 374 369 374 370 374 371 374 372 374 374 374 376 374 377 374 378 374 379 374 380 374 382 374 384 374 385 374 386 374 387 374 388 374 389 375 193 375 324 376 293 376 370 376 371 376 372 376 374 376 375 376 376 376 377 376 378 376 379 376 380 376 381 376 382 376 383 376 384 376 386 376 388 376 389 376 390 376 391 377 203 378 370 378 372 378 373 378 374 378 375 378 377 378 378 378 379 378 380 378 381 378 382 378 384 378 385 378 386 378 387 378 388 378 389 378 391 378 392 378 437 379 412 379 423 380 287 380 368 380 370 380 371 380 372 380 373 380 374 380 375 380 376 380 377 380 378 380 379 380 380 380 381 380 382 380 383 380 384 380 385 380 386 380 388 380 389 380 391 380 420 381 189 381 285 382 369 382 370 382 371 382 372 382 373 382 374 382 375 382 376 382 377 382 378 382 379 382 380 382 381 382 382 382 383 382 384 382 385 382 386 382 387 382 388 382 389 383 198 383 314 384 369 384 370 384 371 384 372 384 373 384 374 384 375 384 376 384 377 384 378 384 380 384 382 384 384 384 385 384 386 386 202 386 289 386 357 386 358 386 361 386 362 386 364 386 366 386 368 386 369 386 370 386 371 386 372 386 373 386 375 386 376 386 377 386 378 386 380 386 382 386 383 386 385 386 386 386 388 386 390 386 391 386 392 386 393 386 394 386 396 386 397 387 427 388 198 388 265 388 283 388 357 388 358 388 359 388 361 388 362 388 363 388 364 388 365 388 366 388 367 388 368 388 370 388 371 388 372 388 373 388 374 388 376 388 377 388 378 388 379 388 380 388 381 388 382 388 383 388 384 388 385 388 386 388 387 388 388 388 389 388 390 388 391 388 392 388 393 388 394 388 395 388 397 388 398 388 399 388 400 388 401 388 402 388 403 388 460 388 462 388 463 388 464 388 470 389 172 389 439 390 187 390 273 390 288 390 295 390 305 390 309 390 356 390 357 390 358 390 359 390 360 390 361 390 362 390 363 390 364 390 365 390 367 390 368 390 369 390 370 390 371 390 372 390 373 390 374 390 375 390 376 390 377 390 379 390 380 390 381 390 382 390 383 390 384 390 385 390 386 390 387 390 389 390 390 390 392 390 394 390 396 390 398 390 399 390 400 390 401 390 402 390 403 390 404 390 405 390 406 390 461 390 462 390 465 390 466 390 467 390 468 390 471 390 472 391 239 391 260 391 327 391 341 392 177 392 264 392 266 392 281 392 302 392 309 392 358 392 359 392 360 392 361 392 362 392 363 392 364 392 365 392 366 392 367 392 368 392 369 392 370 392 371 392 372 392 374 392 376 392 377 392 378 392 379 392 381 392 382 392 383 392 385 392 386 392 387 392 388 392 389 392 390 392 391 392 392 392 394 392 395 392 396 392 397 392 398 392 399 392 400 392 401 392 402 392 403 392 405 392 406 392 407 392 409 392 411 392 460 392 461 392 463 392 464 392 466 392 467 392 469 394 156 394 256 394 275 394 278 394 279 394 290 394 303 394 357 394 358 394 359 394 360 394 361 394 362 394 363 394 364 394 365 394 366 394 367 394 368 394 369 394 371 394 372 394 373 394 374 394 375 394 376 394 378 394 379 394 380 394 381 394 382 394 383 394 384 394 386 394 387 394 388 394 390 394 391 394 392 394 393 394 394 394 395 394 397 394 398 394 399 394 400 394 401 394 403 394 404 394 405 394 406 394 407 394 409 394 420 394 459 394 460 394 462 394 464 394 466 394 469 394 471 395 330 396 203 396 262 396 268 396 282 396 288 396 301 396 309 396 355 396 356 396 358 396 359 396 360 396 361 396 362 396 363 396 364 396 365 396 366 396 367 396 368 396 369 396 370 396 371 396 373 396 374 396 375 396 377 396 378 396 379 396 381 396 382 396 383 396 384 396 386 396 387 396 388 396 389 396 391 396 392 396 393 396 394 396 395 396 396 396 397 396 398 396 399 396 400 396 401 396 427 396 461 396 464 396 466 396 470 398 179 398 335 398 356 398 357 398 358 398 359 398 360 398 361 398 362 398 363 398 364 398 365 398 366 398 367 398 368 398 370 398 372 398 373 398 374 398 375 398 376 398 377 398 378 398 379 398 381 398 382 398 383 398 385 398 386 398 387 398 388 398 389 398 390 398 391 398 392 398 393 398 395 398 396 398 397 398 398 398 399 398 434 399 285 400 173 400 357 400 358 400 359 400 360 400 361 400 362 400 363 400 365 400 366 400 367 400 368 400 369 400 370 400 372 400 373 400 374 400 375 400 376 400 377 400 378 400 379 400 381 400 382 400 384 400 385 400 386 400 387 400 388 400 389 400 390 400 391 400 392 400 393 400 394 400 395 400 396 400 397 400 398 400 399 401 426 402 196 402 273 402 274 402 276 402 278 402 279 402 280 402 281 402 282 402 288 402 289 402 294 402 295 402 298 402 299 402 301 402 302 402 306 402 317 402 321 402 328 402 357 402 358 402 359 402 360 402 362 402 363 402 364 402 366 402 367 402 369 402 371 402 373 402 374 402 375 402 376 402 378 402 379 402 380 402 381 402 382 402 384 402 385 402 386 402 387 402 388 402 389 402 390 402 391 402 392 402 393 402 394 402 395 402 397 402 398 402 437 402 439 402 453 402 462 402 464 402 465 402 466 402 467 402 468 402 470 402 471 404 202 404 269 404 270 404 271 404 273 404 274 404 275 404 278 404 281 404 282 404 283 404 286 404 289 404 290 404 292 404 293 404 294 404 295 404 299 404 302 404 303 404 305 404 306 404 308 404 312 404 318 404 324 404 333 404 364 404 366 404 367 404 369 404 370 404 371 404 372 404 373 404 374 404 375 404 376 404 377 404 378 404 379 404 380 404 381 404 383 404 384 404 385 404 386 404 388 404 390 404 391 404 392 404 394 404 395 404 396 404 397 404 398 404 400 404 402 404 403 404 446 404 451 404 452 404 463 404 465 404 468 404 469 404 470 404 471 404 474 406 263 406 265 406 266 406 267 406 271 406 272 406 273 406 276 406 277 406 279 406 280 406 281 406 283 406 286 406 287 406 291 406 293 406 296 406 299 406 301 406 303 406 304 406 305 406 309 406 326 406 335 406 367 406 368 406 369 406 370 406 371 406 372 406 373 406 375 406 376 406 377 406 378 406 379 406 380 406 382 406 383 406 384 406 385 406 386 406 387 406 389 406 391 406 392 406 394 406 395 406 396 406 397 406 398 406 399 406 400 406 401 406 402 406 403 406 404 406 405 406 406 406 408 406 410 406 411 406 412 406 413 406 415 406 416 406 417 406 419 406 420 406 460 406 461 406 462 406 463 406 466 406 467 406 472 407 189 407 448 408 264 408 265 408 268 408 270 408 273 408 275 408 276 408 278 408 280 408 283 408 285 408 286 408 287 408 293 408 295 408 296 408 297 408 298 408 300 408 301 408 303 408 305 408 317 408 325 408 329 408 366 408 367 408 368 408 369 408 370 408 372 408 374 408 375 408 376 408 377 408 378 408 380 408 382 408 383 408 384 408 385 408 386 408 387 408 388 408 390 408 391 408 392 408 394 408 395 408 396 408 397 408 398 408 399 408 400 408 401 408 403 408 404 408 405 408 406 408 407 408 408 408 409 408 410 408 411 408 412 408 414 408 415 408 417 408 419 408 420 408 421 408 422 408 423 408 458 408 459 408 460 408 462 408 464 408 469 408 470 408 471 408 472 408 473 409 156 410 266 410 267 410 268 410 270 410 274 410 275 410 277 410 278 410 280 410 283 410 284 410 287 410 288 410 291 410 293 410 294 410 296 410 299 410 301 410 302 410 305 410 311 410 312 410 325 410 329 410 364 410 366 410 367 410 368 410 369 410 370 410 371 410 372 410 373 410 375 410 376 410 378 410 379 410 380 410 381 410 382 410 383 410 385 410 386 410 387 410 388 410 389 410 390 410 391 410 392 410 394 410 396 410 397 410 398 410 399 410 400 410 401 410 402 410 404 410 405 410 421 410 433 410 453 410 454 410 455 410 456 410 458 410 459 410 460 410 463 410 466 410 469 410 470 411 225 411 434 412 271 412 274 412 275 412 276 412 279 412 280 412 281 412 283 412 287 412 289 412 290 412 291 412 292 412 294 412 295 412 297 412 299 412 301 412 302 412 305 412 313 412 320 412 321 412 363 412 364 412 365 412 366 412 367 412 368 412 369 412 370 412 371 412 373 412 374 412 376 412 377 412 378 412 380 412 381 412 382 412 384 412 385 412 386 412 387 412 388 412 389 412 390 412 391 412 457 412 460 412 462 412 463 412 466 412 468 412 469 412 470 412 471 413 193 413 328 413 451 413 455 414 263 414 266 414 267 414 270 414 271 414 272 414 276 414 278 414 279 414 283 414 284 414 286 414 287 414 288 414 289 414 290 414 295 414 296 414 299 414 300 414 301 414 310 414 319 414 322 414 323 414 325 414 363 414 365 414 366 414 367 414 368 414 369 414 370 414 372 414 373 414 375 414 377 414 378 414 379 414 380 414 381 414 382 414 383 414 384 414 385 414 386 414 387 414 389 414 390 414 391 414 392 414 393 414 394 414 395 414 450 414 454 414 461 414 463 414 464 414 467 414 468 414 469 414 471 415 424 416 259 416 261 416 263 416 264 416 265 416 270 416 272 416 273 416 276 416 278 416 281 416 285 416 287 416 288 416 289 416 290 416 291 416 292 416 293 416 295 416 296 416 299 416 301 416 311 416 316 416 327 416 333 416 360 416 362 416 363 416 364 416 366 416 367 416 368 416 370 416 371 416 372 416 374 416 375 416 376 416 377 416 378 416 379 416 380 416 381 416 382 416 384 416 385 416 387 416 389 416 391 416 392 416 393 416 394 416 395 416 396 416 398 416 416 416 448 416 459 416 460 416 462 416 463 416 464 416 465 416 466 416 470 417 429 417 456 418 261 418 263 418 264 418 266 418 268 418 269 418 271 418 273 418 274 418 275 418 276 418 278 418 279 418 283 418 284 418 285 418 286 418 290 418 292 418 294 418 295 418 298 418 299 418 301 418 308 418 311 418 319 418 322 418 326 418 360 418 362 418 363 418 365 418 366 418 367 418 368 418 369 418 370 418 371 418 372 418 373 418 374 418 375 418 377 418 378 418 380 418 381 418 383 418 385 418 386 418 387 418 388 418 389 418 390 418 393 418 461 418 463 418 464 418 465 418 466 418 467 418 468 418 470 418 471 419 200 419 313 419 425 419 450 419 451 419 453 420 256 420 263 420 264 420 269 420 271 420 272 420 274 420 276 420 278 420 280 420 284 420 285 420 287 420 288 420 289 420 290 420 291 420 292 420 294 420 295 420 298 420 302 420 303 420 304 420 305 420 306 420 308 420 320 420 358 420 360 420 362 420 363 420 364 420 365 420 367 420 368 420 369 420 370 420 371 420 373 420 375 420 376 420 377 420 378 420 380 420 381 420 382 420 383 420 384 420 385 420 386 420 387 420 388 420 389 420 445 420 452 420 459 420 461 420 463 420 464 420 468 420 471 420 473 422 261 422 263 422 264 422 265 422 267 422 270 422 271 422 273 422 274 422 275 422 276 422 278 422 279 422 280 422 281 422 282 422 285 422 287 422 289 422 303 422 304 422 305 422 357 422 358 422 359 422 360 422 361 422 362 422 363 422 364 422 366 422 368 422 369 422 370 422 371 422 372 422 373 422 374 422 375 422 376 422 378 422 379 422 381 422 382 422 383 422 384 422 386 422 387 422 388 422 389 422 390 422 391 422 392 422 394 422 411 422 415 422 458 422 459 422 460 422 464 422 466 422 467 422 470 423 168 423 256 423 327 423 339 424 248 424 266 424 269 424 270 424 272 424 274 424 275 424 277 424 281 424 282 424 283 424 284 424 285 424 286 424 288 424 289 424 290 424 291 424 295 424 298 424 299 424 300 424 303 424 304 424 359 424 360 424 361 424 362 424 363 424 364 424 365 424 366 424 367 424 368 424 369 424 370 424 371 424 372 424 374 424 375 424 376 424 378 424 379 424 380 424 381 424 382 424 383 424 384 424 385 424 386 424 387 424 388 424 389 424 390 424 391 424 393 424 394 424 395 424 396 424 397 424 399 424 401 424 402 424 450 424 453 424 454 424 455 424 457 424 459 424 466 424 467 424 468 424 469 424 470 424 471 424 472 425 342 425 417 425 453 426 196 426 259 426 261 426 264 426 265 426 266 426 267 426 270 426 271 426 274 426 276 426 279 426 282 426 286 426 287 426 289 426 291 426 292 426 294 426 295 426 296 426 297 426 298 426 359 426 361 426 363 426 364 426 365 426 366 426 367 426 369 426 370 426 371 426 372 426 373 426 374 426 375 426 377 426 378 426 379 426 380 426 381 426 382 426 383 426 384 426 385 426 386 426 387 426 388 426 389 426 390 426 391 426 393 426 395 426 397 426 399 426 400 426 453 426 455 426 456 426 457 426 459 426 460 426 463 426 465 426 466 426 467 426 469 426 470 427 256 427 420 427 445 428 187 428 266 428 270 428 271 428 272 428 273 428 274 428 278 428 279 428 280 428 281 428 282 428 285 428 287 428 290 428 296 428 297 428 315 428 360 428 361 428 363 428 364 428 365 428 366 428 367 428 369 428 370 428 371 428 372 428 373 428 374 428 375 428 376 428 378 428 379 428 380 428 381 428 382 428 383 428 384 428 385 428 387 428 389 428 390 428 447 428 458 428 459 428 461 428 463 428 464 428 468 428 469 428 470 428 471 429 429 429 432 429 446 430 186 430 274 430 276 430 277 430 279 430 282 430 284 430 285 430 286 430 288 430 289 430 291 430 292 430 356 430 357 430 358 430 359 430 360 430 361 430 362 430 363 430 364 430 365 430 366 430 368 430 369 430 370 430 371 430 373 430 375 430 377 430 378 430 380 430 381 430 382 430 383 430 458 430 459 430 460 430 461 430 462 430 464 430 466 430 468 431 323 432 216 432 273 432 278 432 283 432 287 432 289 432 290 432 291 432 293 432 350 432 351 432 352 432 353 432 354 432 355 432 356 432 357 432 359 432 361 432 362 432 363 432 365 432 366 432 367 432 368 432 369 432 370 432 372 432 373 432 374 432 375 432 377 432 378 432 379 432 380 432 381 432 382 432 384 432 415 432 458 432 460 432 462 432 463 432 464 432 465 432 467 432 470 432 471 432 472 432 473 433 334 434 202 434 355 434 356 434 357 434 358 434 359 434 360 434 361 434 362 434 363 434 364 434 365 434 366 434 367 434 368 434 369 434 370 434 371 434 372 434 374 434 376 434 378 434 379 434 380 434 381 434 382 434 383 434 384 434 385 434 387 434 460 434 462 434 466 434 467 434 470 434 473 435 335 436 214 436 324 436 325 436 356 436 357 436 359 436 360 436 361 436 362 436 363 436 364 436 366 436 368 436 370 436 371 436 373 436 374 436 375 436 376 436 377 436 378 436 379 436 380 436 381 436 383 436 384 436 386 436 387 436 389 436 390 436 391 436 393 436 394 436 396 438 186 438 358 438 360 438 361 438 362 438 363 438 364 438 365 438 366 438 367 438 369 438 370 438 372 438 373 438 374 438 376 438 378 438 379 438 380 438 381 438 383 438 384 438 385 438 386 438 387 438 389 438 390 438 392 438 393 438 394 438 395 438 396 438 397 438 398 438 399 438 401 438 402 438 403 438 405 438 406 438 408 439 336 439 426 440 353 440 355 440 356 440 357 440 358 440 359 440 360 440 361 440 362 440 363 440 364 440 365 440 366 440 368 440 369 440 370 440 371 440 373 440 374 440 375 440 377 440 378 440 379 440 380 440 381 440 382 440 383 440 384 440 385 440 386 440 388 440 390 440 392 440 393 440 394 440 395 440 397 440 398 440 399 440 400 440 401 440 402 440 403 440 405 440 406 440 408 440 410 440 411 440 412 440 413 440 415 440 417 440 418 441 320 441 433 442 170 442 314 442 352 442 354 442 355 442 356 442 358 442 359 442 360 442 361 442 362 442 363 442 364 442 366 442 368 442 369 442 370 442 371 442 372 442 373 442 374 442 375 442 376 442 378 442 379 442 380 442 381 442 382 442 384 442 385 442 386 442 388 442 390 442 391 442 392 442 393 442 394 442 395 442 396 442 397 442 398 442 399 442 400 442 402 442 404 442 406 442 407 442 409 444 358 444 360 444 361 444 362 444 364 444 365 444 366 444 367 444 369 444 370 444 371 444 373 444 374 444 376 444 377 444 378 444 379 444 380 444 381 444 382 444 383 444 385 444 387 444 389 444 390 444 391 444 393 444 394 444 395 444 397 444 398 444 400 444 424 445 177 446 357 446 358 446 359 446 360 446 361 446 362 446 363 446 364 446 365 446 366 446 367 446 368 446 369 446 370 446 371 446 372 446 373 446 374 446 375 446 376 446 377 446 378 446 380 446 382 446 383 446 384 446 386 446 388 446 389 446 390 447 184 447 315 447 439 448 358 448 359 448 360 448 362 448 363 448 364 448 366 448 367 448 368 448 369 448 371 448 372 448 373 448 375 448 377 448 378 448 379 448 380 448 382 448 383 448 384 448 385 448 386 448 387 448 389 449 187 450 351 450 352 450 354 450 355 450 356 450 358 450 359 450 360 450 361 450 362 450 363 450 365 450 367 450 369 450 370 450 371 450 372 450 373 450 374 450 375 450 376 450 377 450 378 450 380 450 381 450 382 450 383 450 384 450 386 450 388 450 389 451 177 451 317 451 436 452 180 452 353 452 354 452 355 452 356 452 357 452 358 452 359 452 361 452 363 452 364 452 365 452 366 452 367 452 368 452 369 452 370 452 372 452 373 452 374 452 375 452 377 452 378 452 379 452 380 452 381 452 382 452 383 453 193 454 349 454 351 454 352 454 353 454 355 454 356 454 357 454 358 454 360 454 361 454 362 454 363 454 364 454 365 454 366 454 367 454 368 454 369 454 371 454 372 454 373 454 374 454 375 454 376 454 378 454 380 454 381 454 382 454 384 455 179 456 270 456 271 456 274 456 275 456 276 456 277 456 279 456 280 456 282 456 288 456 294 456 295 456 299 456 310 456 341 456 348 456 349 456 350 456 352 456 354 456 355 456 356 456 357 456 358 456 359 456 360 456 361 456 362 456 363 456 364 456 365 456 366 456 367 456 368 456 369 456 370 456 371 456 372 456 373 456 374 456 375 456 377 456 378 456 379 456 380 456 382 456 384 456 385 456 387 456 388 456 390 456 416 456 458 456 460 456 461 456 462 456 463 456 465 456 468 456 470 457 175 457 343 457 452 458 262 458 266 458 268 458 269 458 272 458 273 458 274 458 277 458 279 458 286 458 287 458 289 458 292 458 299 458 300 458 302 458 317 458 355 458 356 458 358 458 360 458 361 458 362 458 363 458 365 458 366 458 367 458 369 458 370 458 371 458 373 458 374 458 375 458 376 458 377 458 378 458 379 458 380 458 381 458 382 458 384 458 386 458 387 458 389 458 459 458 460 458 461 458 462 458 463 458 465 458 470 458 471 458 472 459 322 459 327 459 455 460 268 460 270 460 271 460 273 460 275 460 276 460 279 460 281 460 284 460 287 460 294 460 297 460 298 460 299 460 356 460 357 460 359 460 361 460 362 460 363 460 364 460 365 460 366 460 367 460 369 460 370 460 371 460 372 460 373 460 374 460 375 460 376 460 378 460 379 460 380 460 381 460 382 460 383 460 385 460 386 460 388 460 389 460 390 460 458 460 459 460 460 460 461 460 464 460 467 460 468 460 469 460 470 460 471 461 187 461 448 462 249 462 262 462 267 462 268 462 280 462 281 462 282 462 283 462 288 462 289 462 295 462 296 462 297 462 355 462 356 462 357 462 358 462 360 462 361 462 362 462 363 462 364 462 365 462 366 462 368 462 369 462 371 462 372 462 373 462 374 462 375 462 376 462 377 462 378 462 379 462 380 462 381 462 382 462 383 462 384 462 385 462 459 462 461 462 464 462 466 462 467 462 470 462 471 462 472 463 189 463 332 464 264 464 267 464 269 464 272 464 273 464 275 464 278 464 284 464 291 464 292 464 296 464 297 464 299 464 317 464 356 464 357 464 358 464 359 464 360 464 361 464 362 464 363 464 365 464 367 464 368 464 370 464 371 464 372 464 373 464 375 464 376 464 377 464 378 464 379 464 380 464 381 464 382 464 383 464 384 464 420 464 458 464 459 464 460 464 461 464 463 464 466 464 468 464 469 464 472 464 473 466 166 466 210 466 264 466 268 466 269 466 273 466 278 466 280 466 281 466 284 466 287 466 293 466 294 466 298 466 299 466 338 466 340 466 342 466 343 466 345 466 346 466 348 466 349 466 350 466 351 466 353 466 355 466 356 466 358 466 359 466 361 466 363 466 364 466 365 466 366 466 368 466 369 466 370 466 371 466 372 466 374 466 376 466 377 466 378 466 380 466 381 466 382 466 383 466 385 466 386 466 387 466 388 466 389 466 391 466 393 466 395 466 396 466 397 466 399 466 400 466 459 466 462 466 463 466 464 466 465 466 467 466 470 466 471 466 473 467 314 467 341 468 168 468 250 468 260 468 262 468 264 468 265 468 272 468 274 468 275 468 281 468 282 468 283 468 290 468 293 468 339 468 341 468 342 468 343 468 344 468 345 468 346 468 347 468 348 468 349 468 351 468 352 468 354 468 355 468 356 468 357 468 358 468 359 468 360 468 361 468 362 468 363 468 365 468 366 468 367 468 368 468 369 468 371 468 372 468 373 468 374 468 375 468 376 468 377 468 378 468 379 468 380 468 381 468 382 468 383 468 384 468 385 468 386 468 387 468 388 468 389 468 390 468 392 468 393 468 395 468 397 468 398 468 400 468 401 468 402 468 403 468 404 468 405 468 406 468 407 468 458 468 462 468 463 468 464 468 468 468 469 468 471 468 472 468 473 469 341 469 449 470 241 470 251 470 261 470 262 470 340 470 341 470 342 470 343 470 344 470 345 470 347 470 348 470 349 470 350 470 351 470 353 470 355 470 356 470 357 470 358 470 359 470 360 470 361 470 362 470 363 470 364 470 365 470 366 470 367 470 368 470 369 470 371 470 373 470 375 470 376 470 377 470 378 470 379 470 380 470 381 470 382 470 383 470 384 470 386 470 388 470 389 470 390 470 391 470 393 470 394 470 395 470 397 470 398 470 399 470 400 470 401 470 402 470 404 470 405 470 408 470 453 470 457 470 458 470 460 470 461 470 462 470 463 470 465 470 466 470 469 471 230 471 435 471 451 472 161 472 230 472 237 472 239 472 241 472 248 472 259 472 262 472 336 472 337 472 338 472 340 472 341 472 342 472 343 472 344 472 345 472 347 472 348 472 349 472 350 472 351 472 352 472 353 472 355 472 357 472 358 472 359 472 360 472 361 472 363 472 364 472 365 472 366 472 367 472 368 472 369 472 371 472 372 472 373 472 374 472 375 472 376 472 377 472 379 472 381 472 382 472 383 472 384 472 385 472 387 472 388 472 389 472 391 472 393 472 394 472 396 472 452 472 453 472 455 472 456 472 460 472 461 472 462 472 463 472 467 472 468 472 471 472 472 473 420 474 147 474 235 474 246 474 248 474 249 474 253 474 265 474 337 474 338 474 339 474 340 474 342 474 343 474 345 474 346 474 347 474 348 474 349 474 350 474 352 474 354 474 356 474 357 474 358 474 359 474 360 474 361 474 362 474 363 474 364 474 365 474 366 474 367 474 368 474 370 474 371 474 372 474 373 474 374 474 375 474 376 474 378 474 380 474 381 474 383 474 384 474 386 474 387 474 389 474 390 474 392 474 395 474 457 474 458 474 460 474 461 474 462 474 463 474 467 474 468 474 470 474 471 475 451 476 242 476 243 476 248 476 258 476 339 476 341 476 343 476 345 476 346 476 347 476 348 476 349 476 350 476 352 476 353 476 354 476 355 476 356 476 357 476 358 476 359 476 360 476 361 476 362 476 363 476 364 476 365 476 367 476 368 476 369 476 370 476 371 476 372 476 373 476 375 476 376 476 377 476 378 476 379 476 380 476 382 476 383 476 385 476 386 476 387 476 388 476 389 476 390 476 391 476 392 476 394 476 456 476 458 476 459 476 461 476 465 476 466 476 467 476 468 477 237 478 207 478 251 478 258 478 262 478 269 478 277 478 278 478 281 478 295 478 296 478 340 478 342 478 344 478 346 478 347 478 349 478 351 478 352 478 354 478 356 478 357 478 358 478 359 478 360 478 361 478 362 478 363 478 364 478 365 478 366 478 367 478 368 478 369 478 370 478 371 478 372 478 373 478 374 478 375 478 376 478 377 478 378 478 379 478 380 478 382 478 383 478 384 478 386 478 387 478 388 478 389 478 391 478 392 478 393 478 394 478 395 478 415 478 457 478 459 478 460 478 462 478 463 478 465 478 466 478 469 478 471 480 260 480 263 480 269 480 270 480 273 480 274 480 277 480 278 480 287 480 288 480 290 480 293 480 294 480 356 480 357 480 359 480 360 480 362 480 363 480 365 480 366 480 368 480 369 480 370 480 371 480 372 480 374 480 375 480 377 480 378 480 380 480 381 480 382 480 383 480 384 480 385 480 387 480 389 480 390 480 392 480 393 480 395 480 456 480 459 480 460 480 461 480 463 480 464 480 465 480 466 480 467 480 468 480 470 480 471 481 214 482 198 482 269 482 270 482 271 482 272 482 281 482 284 482 287 482 294 482 298 482 301 482 353 482 354 482 355 482 356 482 357 482 358 482 359 482 360 482 361 482 362 482 363 482 364 482 365 482 366 482 367 482 368 482 370 482 372 482 373 482 374 482 375 482 377 482 378 482 379 482 380 482 381 482 382 482 383 482 385 482 387 482 389 482 390 482 391 482 392 482 393 482 394 482 395 482 396 482 459 482 460 482 461 482 462 482 463 482 466 482 467 482 469 482 472 483 168 483 432 483 450 484 252 484 254 484 260 484 265 484 267 484 268 484 275 484 290 484 291 484 292 484 293 484 295 484 299 484 355 484 356 484 357 484 358 484 359 484 360 484 361 484 362 484 363 484 364 484 365 484 366 484 367 484 368 484 370 484 371 484 373 484 374 484 376 484 377 484 379 484 380 484 381 484 382 484 383 484 384 484 385 484 387 484 389 484 391 484 392 484 393 484 394 484 396 484 397 484 399 484 401 484 403 484 451 484 456 484 458 484 459 484 461 484 464 484 469 484 470 484 471 486 249 486 250 486 252 486 254 486 257 486 259 486 263 486 269 486 271 486 280 486 283 486 284 486 289 486 290 486 292 486 293 486 298 486 356 486 357 486 358 486 359 486 360 486 361 486 362 486 363 486 364 486 365 486 366 486 367 486 369 486 370 486 371 486 372 486 373 486 374 486 376 486 378 486 379 486 380 486 381 486 382 486 383 486 384 486 385 486 386 486 387 486 388 486 389 486 390 486 392 486 393 486 395 486 396 486 397 486 398 486 399 486 400 486 402 486 403 486 404 486 405 486 406 486 407 486 409 486 410 486 411 486 415 486 455 486 457 486 458 486 459 486 460 486 461 486 462 486 470 486 472 487 196 488 256 488 258 488 261 488 266 488 268 488 269 488 272 488 275 488 281 488 283 488 285 488 288 488 290 488 295 488 296 488 297 488 299 488 356 488 357 488 358 488 359 488 360 488 361 488 362 488 363 488 364 488 365 488 366 488 367 488 368 488 370 488 372 488 373 488 374 488 376 488 377 488 379 488 381 488 382 488 383 488 384 488 385 488 386 488 387 488 388 488 390 488 391 488 393 488 394 488 395 488 396 488 397 488 398 488 399 488 400 488 401 488 403 488 404 488 405 488 407 488 408 488 409 488 411 488 458 488 461 488 463 488 465 488 466 488 468 488 470 488 471 489 186 489 438 489 451 490 251 490 254 490 256 490 258 490 259 490 261 490 269 490 273 490 278 490 283 490 286 490 289 490 291 490 294 490 299 490 355 490 356 490 357 490 358 490 359 490 360 490 362 490 363 490 364 490 365 490 367 490 368 490 369 490 370 490 371 490 372 490 373 490 374 490 375 490 376 490 377 490 378 490 379 490 380 490 381 490 382 490 383 490 384 490 385 490 386 490 387 490 388 490 390 490 391 490 392 490 393 490 394 490 395 490 396 490 397 490 398 490 399 490 400 490 401 490 402 490 404 490 433 490 457 490 460 490 461 490 463 490 464 490 465 490 469 490 470 490 471 490 473 491 168 491 235 491 242 491 244 491 246 492 253 492 254 492 263 492 271 492 272 492 279 492 280 492 281 492 282 492 285 492 288 492 289 492 291 492 297 492 300 492 354 492 355 492 356 492 358 492 359 492 360 492 362 492 364 492 365 492 366 492 367 492 368 492 369 492 370 492 372 492 373 492 374 492 375 492 376 492 377 492 378 492 379 492 380 492 381 492 382 492 383 492 385 492 386 492 387 492 388 492 389 492 390 492 391 492 392 492 393 492 395 492 396 492 397 492 398 492 416 492 462 492 463 492 465 492 466 492 468 492 469 492 470 493 189 493 425 493 453 493 454 494 255 494 259 494 261 494 262 494 263 494 266 494 275 494 282 494 284 494 290 494 299 494 354 494 356 494 357 494 359 494 360 494 361 494 362 494 363 494 364 494 365 494 367 494 368 494 369 494 370 494 371 494 372 494 373 494 374 494 375 494 376 494 377 494 379 494 380 494 381 494 382 494 383 494 385 494 387 494 388 494 389 494 390 494 391 494 393 494 394 494 395 494 434 494 460 494 461 494 462 494 463 494 465 494 469 494 470 494 471 495 191 495 249 495 449 495 456 496 257 496 259 496 261 496 262 496 263 496 264 496 271 496 276 496 280 496 287 496 293 496 299 496 354 496 355 496 357 496 360 496 361 496 362 496 363 496 364 496 365 496 366 496 367 496 368 496 369 496 370 496 371 496 373 496 374 496 375 496 377 496 379 496 380 496 381 496 382 496 383 496 384 496 385 496 387 496 388 496 389 496 390 496 391 496 392 496 393 496 394 496 455 496 456 496 457 496 459 496 462 496 464 496 466 496 468 496 469 496 470 496 471 497 418 497 438 498 187 498 259 498 262 498 264 498 265 498 266 498 274 498 278 498 285 498 290 498 293 498 296 498 352 498 353 498 354 498 355 498 356 498 357 498 358 498 359 498 360 498 361 498 362 498 363 498 365 498 367 498 368 498 369 498 370 498 371 498 372 498 373 498 374 498 375 498 376 498 377 498 378 498 379 498 380 498 381 498 382 498 383 498 384 498 385 498 386 498 387 498 388 498 389 498 390 498 391 498 392 498 394 498 454 498 458 498 461 498 462 498 464 498 466 498 467 498 468 498 469 498 470 499 416 499 447 500 193 500 259 500 260 500 261 500 263 500 266 500 267 500 270 500 273 500 274 500 284 500 285 500 297 500 353 500 354 500 355 500 356 500 358 500 359 500 360 500 361 500 363 500 364 500 365 500 366 500 367 500 368 500 369 500 370 500 371 500 373 500 374 500 376 500 377 500 378 500 379 500 380 500 381 500 383 500 384 500 385 500 386 500 387 500 389 500 391 500 392 500 394 500 433 500 447 500 451 500 455 500 457 500 458 500 461 500 462 500 463 500 464 500 465 500 466 500 471 501 430 501 451 502 189 502 258 502 260 502 262 502 264 502 267 502 268 502 275 502 277 502 282 502 286 502 288 502 289 502 293 502 297 502 298 502 352 502 353 502 354 502 356 502 357 502 359 502 360 502 361 502 362 502 363 502 364 502 365 502 366 502 367 502 368 502 369 502 370 502 371 502 372 502 373 502 374 502 375 502 376 502 378 502 379 502 380 502 381 502 382 502 383 502 384 502 386 502 388 502 389 502 390 502 392 502 394 502 419 502 456 502 457 502 458 502 459 502 460 502 465 502 466 502 467 502 468 502 469 502 471 503 447 504 264 504 266 504 267 504 269 504 271 504 274 504 275 504 286 504 288 504 291 504 294 504 353 504 354 504 356 504 358 504 360 504 362 504 364 504 365 504 366 504 367 504 368 504 369 504 370 504 371 504 372 504 373 504 374 504 376 504 377 504 378 504 379 504 380 504 381 504 382 504 383 504 384 504 385 504 387 504 388 504 389 504 390 504 391 504 394 504 395 504 432 504 454 504 455 504 457 504 458 504 459 504 460 504 462 504 464 504 465 504 466 504 467 504 468 504 470 504 472 505 416 505 425 506 179 506 262 506 282 506 284 506 285 506 291 506 296 506 297 506 349 506 351 506 353 506 354 506 355 506 356 506 357 506 358 506 360 506 361 506 362 506 363 506 364 506 365 506 366 506 368 506 369 506 370 506 371 506 372 506 373 506 374 506 375 506 376 506 377 506 378 506 379 506 380 506 381 506 383 508 173 508 290 508 298 508 299 508 300 508 347 508 349 508 350 508 352 508 353 508 354 508 356 508 357 508 358 508 359 508 360 508 361 508 362 508 363 508 364 508 365 508 366 508 368 508 369 508 370 508 372 508 373 508 374 508 375 508 377 508 378 508 379 508 380 508 381 508 383 508 384 508 385 508 386 509 172 510 166 510 288 510 289 510 291 510 301 510 352 510 353 510 354 510 355 510 356 510 357 510 358 510 359 510 360 510 361 510 362 510 363 510 364 510 365 510 367 510 368 510 369 510 370 510 371 510 372 510 373 510 374 510 375 510 376 510 377 510 378 510 379 510 380 510 382 510 383 510 384 510 385 510 386 510 387 510 388 510 389 510 390 510 392 510 393 510 431 511 422 512 179 512 290 512 297 512 349 512 351 512 352 512 354 512 355 512 356 512 357 512 358 512 359 512 360 512 362 512 363 512 364 512 366 512 367 512 369 512 370 512 371 512 372 512 373 512 374 512 375 512 376 512 377 512 378 512 379 512 380 512 382 512 383 512 384 512 385 512 386 512 388 512 389 512 390 512 391 512 392 512 393 512 394 513 416 514 172 514 350 514 351 514 352 514 353 514 354 514 355 514 356 514 357 514 358 514 359 514 361 514 362 514 363 514 364 514 365 514 367 514 368 514 369 514 370 514 371 514 372 514 373 514 375 514 377 514 379 514 380 514 381 514 382 514 383 514 384 514 385 514 386 514 387 514 389 514 390 514 391 514 392 516 180 516 349 516 350 516 351 516 352 516 353 516 354 516 356 516 357 516 358 516 359 516 360 516 361 516 362 516 364 516 365 516 366 516 367 516 369 516 370 516 371 516 372 516 373 516 374 516 375 516 376 516 377 516 378 516 379 516 380 516 381 516 382 516 385 516 387 516 389 517 179 518 187 518 351 518 352 518 353 518 355 518 356 518 357 518 358 518 359 518 360 518 361 518 362 518 363 518 364 518 365 518 366 518 367 518 368 518 369 518 370 518 371 518 372 518 373 518 374 518 375 518 376 518 378 518 379 518 380 518 381 518 383 518 386 518 387 518 389 518 391 518 393 518 394 518 396 518 398 518 399 518 401 518 404 518 406 518 408 518 409 518 410 518 411 518 413 518 415 518 416 518 418 518 420 518 422 518 423 518 425 518 426 518 428 518 430 518 432 518 434 518 435 518 437 518 438 518 439 519 226 520 355 520 356 520 358 520 359 520 360 520 361 520 362 520 363 520 364 520 365 520 366 520 368 520 369 520 371 520 372 520 373 520 374 520 375 520 376 520 377 520 379 520 380 520 382 520 384 520 385 520 386 520 388 520 389 520 391 520 392 520 393 520 394 520 395 520 396 520 397 520 398 520 399 520 400 520 401 520 402 520 403 520 404 520 405 520 406 520 407 520 408 520 409 520 410 520 411 520 413 520 414 520 416 520 417 520 419 520 420 520 421 520 423 520 424 520 426 520 427 520 428 520 429 520 431 520 432 520 433 520 435 521 156 522 357 522 359 522 361 522 362 522 363 522 364 522 366 522 367 522 368 522 369 522 370 522 371 522 373 522 374 522 375 522 376 522 377 522 378 522 379 522 380 522 381 522 382 522 383 522 384 522 386 522 388 522 390 522 391 522 393 522 394 522 395 522 397 522 398 522 399 522 400 522 402 522 403 522 404 522 405 522 406 522 407 522 409 522 411 522 412 522 413 522 415 522 416 522 417 522 418 522 419 522 420 522 422 522 423 522 425 522 426 522 427 522 428 522 430 522 431 522 432 522 434 524 368 524 369 524 370 524 371 524 372 524 373 524 375 524 376 524 378 524 379 524 380 524 381 524 382 524 383 524 384 524 386 524 388 524 389 524 391 524 393 524 394 524 395 524 396 524 398 524 399 524 400 524 401 524 402 524 403 524 405 524 407 524 409 524 410 524 411 524 412 524 414 524 416 524 417 524 418 525 216 526 367 526 368 526 369 526 370 526 371 526 372 526 373 526 374 526 375 526 376 526 379 526 380 526 381 526 383 526 385 526 386 526 387 526 389 526 391 526 392 526 393 526 394 526 396 526 397 526 398 526 399 526 400 526 402 526 403 526 405 526 407 526 410 526 411 526 412 526 415 526 416 526 417 526 418 526 420 527 207 528 366 528 367 528 368 528 369 528 370 528 372 528 373 528 374 528 375 528 376 528 377 528 378 528 379 528 380 528 381 528 382 528 383 528 384 528 386 528 387 528 388 528 389 528 390 528 391 528 392 528 393 528 395 528 397 528 399 528 400 528 401 528 403 528 405 528 406 528 407 528 408 528 410 528 411 528 412 528 413 528 414 529 202 530 368 530 370 530 372 530 373 530 374 530 375 530 376 530 378 530 379 530 380 530 383 530 384 530 385 530 386 530 388 530 389 530 390 530 391 530 392 530 393 530 394 530 395 530 397 530 398 530 399 530 400 530 401 530 402 530 404 530 405 530 406 530 407 530 408 530 409 530 411 530 412 530 414 530 417 530 465 530 471 530 472 530 474 530 475 531 233 532 254 532 288 532 289 532 314 532 323 532 325 532 327 532 348 532 356 532 359 532 368 532 370 532 371 532 372 532 373 532 374 532 375 532 376 532 377 532 378 532 379 532 381 532 383 532 384 532 385 532 386 532 387 532 388 532 389 532 390 532 392 532 394 532 396 532 397 532 398 532 399 532 400 532 401 532 402 532 404 532 405 532 407 532 408 532 410 532 411 532 412 532 414 532 415 532 417 532 418 532 469 532 470 532 471 532 473 532 475 534 258 534 262 534 289 534 293 534 318 534 320 534 323 534 325 534 333 534 338 534 349 534 372 534 373 534 375 534 381 534 384 534 385 534 387 534 388 534 389 534 390 534 391 534 392 534 393 534 395 534 396 534 398 534 399 534 400 534 401 534 402 534 403 534 404 534 405 534 406 534 407 534 408 534 410 534 412 534 413 534 414 534 417 534 418 534 419 534 421 534 467 534 471 534 474 534 475 534 476 534 478 534 504 535 255 535 258 536 252 536 260 536 266 536 279 536 315 536 318 536 321 536 322 536 325 536 326 536 327 536 332 536 343 536 344 536 352 536 361 536 364 536 366 536 387 536 388 536 389 536 390 536 391 536 392 536 394 536 395 536 396 536 398 536 399 536 400 536 401 536 402 536 404 536 406 536 407 536 408 536 410 536 411 536 412 536 413 536 415 536 417 536 418 536 419 536 421 536 423 536 425 536 426 536 429 536 431 536 467 536 469 536 474 536 475 536 478 536 479 537 246 538 255 538 260 538 278 538 291 538 314 538 322 538 323 538 324 538 326 538 328 538 329 538 331 538 334 538 338 538 344 538 355 538 356 538 364 538 369 538 386 538 387 538 388 538 389 538 390 538 392 538 393 538 394 538 395 538 396 538 398 538 399 538 400 538 401 538 402 538 403 538 404 538 405 538 407 538 409 538 411 538 412 538 413 538 414 538 415 538 416 538 417 538 419 538 421 538 422 538 467 538 470 538 471 538 474 538 476 538 479 538 508 540 253 540 259 540 294 540 313 540 317 540 318 540 321 540 326 540 329 540 331 540 341 540 360 540 374 540 386 540 388 540 389 540 390 540 391 540 392 540 394 540 395 540 396 540 398 540 399 540 400 540 401 540 402 540 403 540 405 540 407 540 408 540 410 540 412 540 415 540 467 540 469 540 474 540 475 540 477 541 253 541 299 542 253 542 308 542 313 542 314 542 316 542 323 542 327 542 328 542 329 542 350 542 385 542 386 542 387 542 388 542 390 542 391 542 393 542 394 542 395 542 397 542 399 542 401 542 403 542 404 542 405 542 406 542 407 542 408 542 411 542 412 542 468 542 469 542 471 542 472 542 475 542 476 543 371 544 218 544 308 544 310 544 315 544 317 544 320 544 321 544 322 544 324 544 325 544 359 544 378 544 386 544 388 544 389 544 390 544 392 544 393 544 394 544 395 544 396 544 397 544 398 544 399 544 400 544 401 544 402 544 403 544 404 544 405 544 406 544 407 544 408 544 409 544 411 544 412 544 413 544 415 544 417 544 466 544 469 544 470 544 472 544 475 544 478 546 226 546 311 546 312 546 314 546 317 546 319 546 320 546 323 546 328 546 333 546 388 546 389 546 390 546 391 546 392 546 394 546 395 546 396 546 398 546 399 546 401 546 402 546 403 546 404 546 405 546 406 546 408 546 409 546 411 546 412 546 413 546 414 546 415 546 416 546 417 546 418 546 419 546 420 546 421 546 423 546 425 546 468 546 472 546 473 546 474 546 475 547 335 547 342 547 356 548 240 548 310 548 311 548 314 548 317 548 320 548 322 548 329 548 331 548 334 548 387 548 388 548 389 548 390 548 391 548 392 548 393 548 395 548 396 548 397 548 398 548 399 548 400 548 401 548 403 548 404 548 405 548 406 548 407 548 408 548 409 548 410 548 412 548 413 548 414 548 415 548 416 548 417 548 419 548 420 548 421 548 422 548 423 548 424 548 427 548 429 548 472 548 473 549 311 549 338 549 376 550 244 550 385 550 387 550 388 550 389 550 390 550 392 550 393 550 394 550 395 550 396 550 398 550 399 550 400 550 402 550 404 550 406 550 407 550 408 550 409 550 410 550 411 550 412 550 415 550 417 550 467 550 469 550 470 550 474 552 265 552 386 552 387 552 389 552 390 552 391 552 392 552 393 552 394 552 395 552 396 552 397 552 398 552 399 552 400 552 401 552 402 552 403 552 405 552 406 552 407 552 408 552 409 552 466 552 467 552 470 552 472 552 473 552 476 552 477 553 286 554 379 554 384 554 385 554 386 554 389 554 390 554 391 554 393 554 394 554 395 554 396 554 398 554 399 554 400 554 401 554 402 554 404 554 405 554 406 554 407 554 466 554 467 554 472 554 473 554 508 555 279 556 240 556 360 556 386 556 387 556 389 556 390 556 391 556 392 556 393 556 394 556 395 556 396 556 397 556 399 556 401 556 402 556 403 556 405 556 407 556 408 556 410 556 469 556 471 556 474 556 475 556 476 557 239 557 377 558 313 558 385 558 386 558 387 558 388 558 390 558 392 558 394 558 395 558 397 558 398 558 399 558 401 558 402 558 403 558 404 558 405 558 406 558 465 558 466 558 467 558 471 558 472 558 475 558 476 558 477 559 239 559 304 559 308 559 320 560 308 560 318 560 327 560 330 560 332 560 334 560 337 560 370 560 384 560 386 560 388 560 390 560 392 560 394 560 396 560 397 560 398 560 399 560 400 560 401 560 402 560 404 560 405 560 406 560 464 560 466 560 470 560 471 560 472 560 476 560 477 561 253 562 320 562 378 562 386 562 388 562 390 562 391 562 392 562 394 562 395 562 396 562 397 562 399 562 400 562 401 562 402 562 403 562 404 562 405 562 407 562 468 562 469 562 470 562 471 562 472 562 473 562 475 562 477 563 255 564 385 564 387 564 388 564 389 564 391 564 392 564 393 564 395 564 396 564 397 564 398 564 399 564 400 564 401 564 402 564 403 564 405 564 406 565 228 565 357 566 325 566 380 566 381 566 382 566 383 566 384 566 385 566 387 566 389 566 390 566 391 566 392 566 393 566 395 566 396 566 397 566 398 566 399 566 400 566 402 567 240 568 335 568 378 568 380 568 381 568 382 568 383 568 385 568 387 568 389 568 390 568 391 568 392 568 393 568 395 568 396 568 397 568 398 568 399 568 400 568 401 568 402 568 403 568 448 569 237 569 336 569 461 570 325 570 384 570 386 570 388 570 390 570 392 570 393 570 394 570 395 570 396 570 397 570 398 570 399 570 400 570 401 570 402 570 403 570 404 570 406 570 408 570 409 570 411 571 232 571 328 571 367 572 388 572 390 572 392 572 394 572 395 572 396 572 397 572 398 572 399 572 400 572 401 572 402 572 404 572 405 572 407 572 409 572 411 572 413 572 414 572 416 572 418 573 366 573 378 574 278 574 330 574 365 574 389 574 390 574 392 574 394 574 396 574 397 574 398 574 399 574 400 574 401 574 402 574 403 574 404 574 405 574 406 574 407 574 409 574 410 574 411 574 412 574 413 574 414 574 415 574 416 574 418 574 419 574 420 574 422 574 468 575 351 576 267 576 390 576 391 576 392 576 393 576 394 576 395 576 396 576 397 576 398 576 400 576 401 576 402 576 404 576 407 576 409 576 411 576 412 576 413 576 414 576 415 576 416 576 418 576 419 576 421 576 422 576 461 577 244 578 244 578 345 578 385 578 387 578 389 578 390 578 391 578 392 578 393 578 394 578 396 578 397 578 399 578 400 578 401 578 402 578 403 578 404 578 405 578 406 578 408 578 410 578 411 578 412 578 413 578 414 578 415 578 416 578 417 578 419 579 461 580 230 580 380 580 382 580 383 580 385 580 387 580 388 580 389 580 391 580 392 580 394 580 395 580 396 580 397 580 398 580 399 580 401 580 403 580 405 580 406 580 407 580 409 580 410 580 411 580 413 581 360 581 378 582 232 582 386 582 387 582 390 582 391 582 392 582 393 582 395 582 396 582 397 582 398 582 399 582 400 582 401 582 402 582 404 582 405 582 406 582 408 584 218 584 354 584 388 584 389 584 390 584 391 584 392 584 393 584 394 584 396 584 397 584 399 584 400 584 401 584 402 584 403 584 404 584 405 584 407 584 408 584 410 585 316 586 232 586 366 586 387 586 389 586 390 586 391 586 393 586 394 586 396 586 397 586 399 586 400 586 401 586 402 586 404 586 405 586 406 586 407 586 408 586 409 586 411 586 413 587 122 587 260 587 265 587 330 588 269 588 274 588 386 588 387 588 388 588 389 588 390 588 391 588 392 588 393 588 394 588 396 588 397 588 398 588 399 588 401 588 403 588 405 588 406 588 409 588 440 588 494 589 349 590 226 590 372 590 386 590 388 590 389 590 390 590 391 590 392 590 393 590 394 590 396 590 397 590 398 590 399 590 400 590 401 590 402 590 403 590 404 590 405 590 406 592 260 592 385 592 387 592 389 592 390 592 391 592 392 592 393 592 394 592 396 592 398 592 399 592 400 592 401 592 403 593 260 593 337 594 269 594 388 594 389 594 390 594 391 594 392 594 393 594 394 594 396 594 397 594 398 594 399 594 400 594 401 594 402 594 403 594 404 594 405 594 407 595 445 596 386 596 387 596 388 596 389 596 390 596 391 596 392 596 393 596 395 596 396 596 397 596 398 596 399 596 401 596 402 596 403 596 405 596 406 596 407 596 408 596 409 596 411 596 469 597 290 598 358 598 388 598 390 598 393 598 394 598 395 598 397 598 398 598 399 598 400 598 401 598 403 598 405 598 406 598 407 598 408 598 409 598 410 598 411 598 413 598 455 599 267 600 387 600 389 600 390 600 391 600 392 600 393 600 395 600 397 600 398 600 399 600 400 600 401 600 402 600 403 600 404 600 405 600 406 600 407 600 408 600 409 600 410 600 411 600 413 600 415 600 451 601 249 601 336 602 387 602 389 602 390 602 391 602 392 602 393 602 394 602 396 602 397 602 399 602 400 602 401 602 402 602 403 602 405 602 407 602 409 602 410 602 411 602 412 602 413 602 414 602 415 602 416 602 417 602 418 602 420 602 422 602 456 603 242 603 362 604 389 604 390 604 392 604 393 604 394 604 396 604 398 604 399 604 400 604 401 604 402 604 403 604 404 604 406 604 407 604 408 604 409 604 410 604 411 604 412 604 414 604 415 604 417 604 418 604 419 604 420 604 421 604 422 604 424 604 425 604 426 604 427 605 233 605 253 605 318 605 332 606 253 606 393 606 395 606 397 606 398 606 399 606 402 606 403 606 405 606 407 606 408 606 409 606 410 606 411 606 412 606 413 606 415 606 416 606 417 606 419 606 420 606 421 606 422 606 423 606 424 606 425 606 426 606 427 606 429 606 432 606 433 606 435 606 437 606 438 607 290 607 471 608 407 608 409 608 410 608 412 608 414 608 415 608 416 608 417 608 418 608 419 608 420 608 422 608 423 608 424 608 425 608 426 608 428 608 430 608 431 608 454 608 471 609 290 609 466 609 472 610 369 610 403 610 405 610 406 610 407 610 408 610 410 610 412 610 413 610 414 610 415 610 416 610 418 610 420 610 421 610 422 610 423 610 424 610 426 610 445 611 281 612 350 612 375 612 402 612 403 612 404 612 405 612 406 612 407 612 408 612 410 612 411 612 412 612 413 612 415 612 416 612 417 612 418 612 419 612 420 612 421 612 422 612 423 612 424 612 425 612 426 612 427 613 282 613 455 613 468 614 404 614 405 614 406 614 408 614 409 614 410 614 411 614 412 614 413 614 414 614 415 614 416 614 417 614 419 614 420 614 421 614 423 614 424 616 272 616 403 616 404 616 405 616 407 616 408 616 409 616 410 616 411 616 412 616 414 616 416 616 417 616 418 616 420 616 422 616 424 617 464 618 276 618 351 618 400 618 401 618 403 618 404 618 405 618 406 618 408 618 409 618 411 618 412 618 413 618 414 618 415 618 417 618 419 618 420 618 421 618 422 618 423 618 464 618 468 619 286 619 444 619 449 620 168 620 295 620 298 620 300 620 302 620 306 620 374 620 398 620 399 620 400 620 401 620 403 620 405 620 406 620 408 620 409 620 410 620 411 620 412 620 413 620 414 620 415 620 416 620 418 620 419 620 420 620 421 620 423 620 475 620 512 621 304 621 308 621 310 621 312 621 341 621 350 621 359 622 402 622 403 622 404 622 405 622 406 622 408 622 409 622 410 622 412 622 413 622 414 622 415 622 417 622 419 622 421 622 423 622 424 622 464 622 475 623 466 624 276 624 405 624 406 624 407 624 409 624 410 624 412 624 413 624 414 624 416 624 417 624 418 624 419 624 420 624 421 624 422 624 423 624 425 624 426 624 428 624 430 624 431 624 433 624 442 625 354 626 263 626 375 626 402 626 404 626 405 626 406 626 407 626 408 626 409 626 410 626 411 626 414 626 416 626 417 626 418 626 419 626 420 626 422 626 424 626 425 626 427 626 428 626 429 626 430 626 431 626 432 626 433 626 434 626 436 626 437 626 444 626 471 627 349 627 360 628 265 628 352 628 356 628 371 628 403 628 404 628 405 628 406 628 407 628 409 628 411 628 413 628 414 628 415 628 416 628 417 628 418 628 420 628 422 628 424 628 426 628 428 628 429 628 431 628 433 628 434 628 435 628 436 628 438 628 440 628 447 628 456 629 346 629 377 629 473 630 297 630 398 630 399 630 400 630 401 630 402 630 403 630 404 630 405 630 406 630 408 630 409 630 410 630 411 630 413 630 414 630 415 630 416 630 417 630 418 630 419 630 420 630 422 630 423 630 424 630 425 630 426 630 428 630 443 630 466 631 366 631 379 632 274 632 395 632 396 632 398 632 399 632 401 632 402 632 403 632 404 632 406 632 407 632 408 632 409 632 410 632 411 632 412 632 413 632 414 632 415 632 416 632 417 632 418 632 420 632 422 633 376 633 472 634 288 634 376 634 402 634 404 634 405 634 406 634 408 634 409 634 410 634 411 634 412 634 413 634 414 634 415 634 416 634 418 634 419 634 420 634 445 635 288 635 358 635 374 635 467 636 272 636 347 636 364 636 404 636 405 636 406 636 407 636 409 636 410 636 411 636 412 636 413 636 415 636 416 636 417 636 418 636 419 636 421 636 422 636 423 636 445 637 272 638 270 638 404 638 405 638 407 638 408 638 409 638 410 638 412 638 413 638 414 638 415 638 416 638 418 638 419 638 420 638 421 638 422 638 424 638 425 638 426 638 428 638 430 638 468 638 471 639 270 640 283 640 341 640 406 640 408 640 409 640 411 640 412 640 413 640 415 640 416 640 417 640 418 640 419 640 420 640 421 640 422 640 424 640 426 640 427 640 428 640 430 640 431 640 432 641 378 641 455 642 354 642 404 642 406 642 407 642 408 642 409 642 411 642 412 642 413 642 415 642 416 642 418 642 419 642 420 642 422 642 424 642 426 642 427 642 428 642 449 642 451 643 258 643 265 643 351 643 373 644 405 644 406 644 407 644 408 644 409 644 411 644 412 644 413 644 415 644 416 644 417 644 418 644 420 644 422 645 262 645 365 645 443 645 457 646 404 646 405 646 406 646 407 646 408 646 409 646 411 646 412 646 414 646 416 646 417 646 419 646 456 647 267 647 360 647 376 647 383 647 449 647 467 647 472 648 344 648 406 648 407 648 409 648 410 648 411 648 412 648 414 648 415 648 418 648 470 649 375 649 470 650 262 650 353 650 405 650 406 650 407 650 408 650 409 650 410 650 411 650 412 650 414 650 415 651 267 651 378 652 404 652 405 652 406 652 407 652 409 652 410 652 411 652 412 652 414 652 415 652 416 652 418 652 419 652 420 652 422 653 446 654 265 654 404 654 406 654 407 654 408 654 409 654 411 654 412 654 413 654 414 654 415 654 416 654 417 654 418 654 419 654 420 654 421 654 422 654 424 654 425 654 427 654 428 654 429 654 430 654 431 654 433 654 434 655 260 655 375 655 446 656 353 656 376 656 402 656 403 656 404 656 405 656 406 656 407 656 408 656 409 656 410 656 412 656 413 656 414 656 415 656 416 656 417 656 418 656 419 656 420 656 421 656 422 656 423 656 425 656 427 656 428 656 429 656 430 657 353 657 358 657 475 658 260 658 279 658 352 658 353 658 403 658 404 658 405 658 406 658 409 658 410 658 412 658 414 658 416 658 417 658 418 658 419 658 420 658 422 658 423 658 425 658 427 658 429 659 281 659 340 659 342 659 366 659 455 659 475 660 295 660 373 660 401 660 403 660 404 660 405 660 406 660 407 660 408 660 409 660 411 660 413 660 414 660 415 660 417 661 345 661 359 662 256 662 342 662 350 662 402 662 403 662 405 662 406 662 407 662 408 662 409 662 410 662 411 662 412 662 414 662 415 662 416 662 417 662 418 662 419 662 420 662 442 662 452 664 256 664 362 664 375 664 401 664 403 664 404 664 405 664 406 664 407 664 408 664 409 664 410 664 411 664 412 664 413 664 414 664 415 664 416 664 417 664 418 664 420 665 360 665 442 666 276 666 399 666 401 666 402 666 403 666 404 666 405 666 406 666 407 666 408 666 410 666 411 666 413 666 414 666 415 666 417 666 453 667 371 668 247 668 399 668 400 668 401 668 403 668 405 668 406 668 407 668 409 668 410 668 412 668 413 668 415 669 380 669 442 669 475 670 286 670 371 670 376 670 399 670 400 670 401 670 402 670 403 670 404 670 405 670 406 670 407 670 408 670 409 670 410 670 412 670 413 670 448 671 447 671 474 672 253 672 400 672 401 672 403 672 404 672 406 672 407 672 408 672 410 672 411 672 412 672 413 672 414 672 415 672 416 672 417 672 420 672 442 674 260 674 400 674 403 674 405 674 407 674 408 674 409 674 411 674 412 674 413 674 415 674 417 674 418 674 420 674 421 674 468 674 473 675 379 675 464 675 468 676 347 676 400 676 402 676 403 676 405 676 407 676 408 676 410 676 411 676 412 676 413 676 415 676 416 676 417 676 446 676 448 677 272 677 279 677 370 677 444 677 456 678 270 678 351 678 376 678 398 678 399 678 401 678 402 678 403 678 404 678 405 678 406 678 407 678 408 678 409 678 410 678 411 678 412 678 413 678 414 678 415 678 416 678 418 678 419 680 363 680 392 680 394 680 395 680 396 680 397 680 398 680 399 680 400 680 401 680 402 680 403 680 404 680 406 680 407 680 409 680 410 680 411 680 412 680 415 680 416 680 417 680 419 680 421 680 457 681 251 681 467 682 345 682 396 682 397 682 398 682 399 682 400 682 401 682 402 682 403 682 404 682 405 682 406 682 408 682 409 682 410 682 411 682 412 682 413 682 415 682 416 682 417 682 419 683 239 683 449 684 388 684 399 684 400 684 401 684 402 684 403 684 405 684 406 684 407 684 409 684 411 684 413 684 414 684 415 684 416 684 417 685 265 685 349 685 353 685 378 685 441 686 389 686 400 686 401 686 402 686 403 686 404 686 405 686 406 686 407 686 408 686 409 686 410 686 411 686 412 686 413 686 414 686 415 686 417 686 418 686 419 686 420 686 472 687 253 687 374 687 391 688 357 688 400 688 402 688 404 688 405 688 407 688 408 688 410 688 411 688 412 688 413 688 414 688 416 688 418 688 420 689 272 689 382 689 383 689 440 689 452 690 341 690 368 690 407 690 408 690 409 690 411 690 412 690 413 690 414 690 415 690 417 690 418 690 420 691 263 691 380 692 410 692 411 692 412 692 413 692 414 692 415 692 416 692 418 692 420 693 344 693 376 693 390 694 268 694 385 694 404 694 405 694 406 694 407 694 408 694 409 694 410 694 411 694 413 694 414 694 442 695 473 695 510 696 274 696 405 696 406 696 407 696 408 696 409 696 410 696 411 696 412 696 413 696 414 696 416 696 417 698 272 698 399 698 400 698 403 698 404 698 406 698 407 698 408 698 410 698 411 698 412 698 413 698 414 698 415 698 417 698 418 698 419 698 420 698 421 698 422 698 423 699 341 700 258 700 397 700 399 700 400 700 401 700 403 700 404 700 405 700 406 700 407 700 408 700 410 700 412 700 414 700 416 700 417 700 418 700 419 700 420 700 421 700 422 700 424 700 425 700 427 700 428 700 429 700 431 700 432 700 435 700 452 701 452 702 267 702 397 702 399 702 401 702 402 702 403 702 404 702 405 702 406 702 408 702 409 702 410 702 411 702 413 702 414 702 415 702 416 702 418 702 419 702 421 702 422 702 424 702 425 702 427 702 428 702 429 702 430 702 431 702 432 702 433 702 435 702 436 702 437 702 438 702 439 702 440 702 441 703 358 704 254 704 399 704 400 704 402 704 403 704 405 704 406 704 407 704 408 704 409 704 410 704 412 704 413 704 414 704 415 704 416 704 418 704 419 704 420 704 421 704 422 704 423 704 424 704 426 704 427 704 428 704 429 704 430 704 431 704 433 704 434 704 436 704 437 704 438 704 455 705 374 705 377 706 274 706 369 706 402 706 403 706 404 706 406 706 408 706 409 706 410 706 411 706 413 706 414 706 415 706 416 706 417 706 419 706 420 706 421 706 422 706 424 706 425 706 427 706 429 707 376 707 378 707 448 708 352 708 362 708 404 708 405 708 406 708 407 708 408 708 409 708 410 708 411 708 412 708 414 708 416 708 417 708 418 708 419 708 420 708 421 708 422 708 424 708 425 708 426 708 427 709 274 709 345 710 254 710 285 710 407 710 409 710 410 710 411 710 412 710 413 710 414 710 415 710 417 710 418 710 420 710 421 710 422 710 423 710 424 710 425 710 442 710 444 710 454 711 374 711 377 711 465 711 466 712 354 712 355 712 404 712 405 712 406 712 408 712 409 712 411 712 412 712 413 712 414 712 415 712 416 712 418 712 419 712 420 712 421 712 422 712 423 712 424 712 425 712 448 713 251 713 348 714 373 714 401 714 402 714 404 714 405 714 406 714 407 714 408 714 409 714 410 714 411 714 413 714 414 714 415 714 416 714 417 714 418 714 419 714 420 714 421 714 475 715 279 715 443 715 449 716 400 716 402 716 404 716 406 716 407 716 408 716 409 716 410 716 411 716 413 716 414 716 415 716 417 716 418 716 419 716 421 716 423 716 425 717 267 717 442 717 469 718 393 718 396 718 397 718 398 718 400 718 402 718 403 718 404 718 405 718 407 718 408 718 409 718 410 718 412 718 413 718 414 718 415 718 416 718 417 718 418 718 420 718 422 718 423 718 425 718 428 718 429 718 431 719 260 719 468 720 360 720 371 720 392 720 394 720 396 720 397 720 399 720 400 720 401 720 403 720 405 720 406 720 407 720 408 720 409 720 410 720 411 720 412 720 414 720 415 720 416 720 417 720 419 720 420 720 421 720 422 720 424 720 425 720 427 720 428 720 429 720 430 720 432 720 434 720 437 720 438 720 440 720 441 720 469 721 203 721 351 721 357 721 361 721 366 721 380 722 352 722 393 722 394 722 396 722 397 722 399 722 400 722 401 722 402 722 403 722 404 722 405 722 406 722 407 722 408 722 409 722 410 722 411 722 413 722 414 722 415 722 416 722 417 722 419 722 420 722 421 722 422 722 423 722 424 722 425 722 426 722 427 722 428 722 429 722 430 722 432 722 433 722 434 722 435 722 437 722 439 723 265 723 363 723 378 724 341 724 389 724 391 724 393 724 394 724 395 724 396 724 397 724 398 724 399 724 400 724 401 724 403 724 404 724 405 724 406 724 408 724 409 724 411 724 412 724 413 724 414 724 415 724 416 724 417 724 418 724 420 724 422 724 424 724 425 724 426 724 427 724 429 724 430 724 431 724 432 724 433 724 434 724 435 724 436 724 438 724 441 725 276 725 456 725 468 726 338 726 349 726 371 726 392 726 394 726 395 726 396 726 397 726 398 726 399 726 400 726 401 726 402 726 403 726 404 726 405 726 407 726 409 726 410 726 411 726 412 726 413 726 414 726 415 726 416 726 417 726 418 726 419 726 420 726 421 726 422 726 424 726 425 726 426 726 427 726 429 726 431 726 433 727 247 727 466 727 467 727 470 728 367 728 386 728 390 728 395 728 396 728 397 728 398 728 399 728 400 728 401 728 402 728 403 728 405 728 407 728 408 728 409 728 410 728 411 728 413 728 414 728 415 728 416 728 418 728 419 728 421 728 423 728 426 728 455 729 270 729 382 730 394 730 396 730 397 730 398 730 399 730 400 730 401 730 402 730 403 730 406 730 408 730 409 730 410 730 412 730 413 730 415 730 416 730 417 730 418 730 420 730 421 731 349 731 365 732 279 732 377 732 393 732 396 732 397 732 399 732 400 732 401 732 402 732 403 732 405 732 406 732 407 732 408 732 409 732 410 732 411 732 413 732 415 732 416 732 417 732 418 733 258 733 342 733 384 733 447 733 469 734 256 734 370 734 393 734 394 734 397 734 399 734 400 734 402 734 403 734 404 734 405 734 406 734 407 734 408 734 409 734 410 734 411 734 412 734 413 734 414 734 415 734 416 734 417 734 419 734 420 734 448 736 267 736 352 736 353 736 394 736 396 736 398 736 400 736 401 736 402 736 403 736 404 736 405 736 406 736 407 736 408 736 410 736 411 736 412 736 414 736 415 736 416 736 417 736 418 736 419 736 420 738 286 738 394 738 396 738 397 738 399 738 400 738 401 738 402 738 403 738 404 738 405 738 406 738 407 738 409 738 410 738 412 738 413 738 414 738 415 738 417 738 418 738 420 738 421 738 423 739 382 740 403 740 404 740 406 740 407 740 409 740 410 740 411 740 412 740 413 740 414 740 416 740 417 740 418 740 420 740 422 740 423 740 424 740 426 740 428 740 429 740 430 740 431 740 432 740 433 740 435 740 436 741 359 742 260 742 400 742 401 742 402 742 404 742 405 742 406 742 408 742 410 742 411 742 413 742 414 742 415 742 417 742 418 742 419 742 420 742 421 742 422 742 423 742 424 742 425 742 426 742 427 742 428 742 429 742 431 742 432 742 433 742 435 742 436 742 438 742 439 742 440 742 442 742 443 743 367 743 372 744 262 744 402 744 403 744 405 744 406 744 408 744 409 744 411 744 412 744 413 744 415 744 417 744 418 744 419 744 420 744 421 744 422 744 423 744 425 744 426 744 427 744 428 744 429 744 430 744 431 744 432 744 433 744 435 744 437 744 443 744 464 744 475 745 352 746 360 746 372 746 404 746 406 746 407 746 408 746 409 746 411 746 412 746 413 746 414 746 415 746 417 746 418 746 419 746 420 746 421 746 422 746 423 746 424 746 425 746 426 746 428 746 429 746 430 746 432 746 447 747 258 748 300 748 403 748 404 748 406 748 408 748 410 748 411 748 414 748 415 748 416 748 418 748 419 748 420 748 421 748 424 748 425 749 444 750 402 750 403 750 405 750 406 750 408 750 410 750 412 750 413 750 414 750 415 750 416 750 417 750 418 750 420 750 447 751 263 751 363 751 390 752 402 752 404 752 406 752 407 752 408 752 410 752 411 752 412 752 413 752 414 752 415 752 416 752 417 752 418 752 419 752 420 752 421 752 422 752 423 752 425 752 427 752 465 753 281 754 343 754 347 754 405 754 407 754 408 754 409 754 411 754 412 754 413 754 414 754 415 754 416 754 417 754 419 754 420 754 422 754 423 754 424 754 425 754 426 754 428 754 429 755 304 755 366 755 456 756 404 756 405 756 406 756 408 756 410 756 411 756 412 756 413 756 415 756 416 756 417 756 418 756 419 756 420 756 421 756 422 756 423 756 424 756 425 756 427 756 428 756 443 757 292 757 470 758 364 758 406 758 407 758 408 758 409 758 410 758 411 758 412 758 413 758 415 758 416 758 417 758 418 758 420 758 422 758 423 758 424 758 426 758 428 758 430 758 431 758 442 758 448 758 464 758 475 759 299 759 302 759 346 759 354 759 456 760 299 760 336 760 378 760 406 760 408 760 409 760 410 760 411 760 412 760 413 760 414 760 415 760 416 760 417 760 419 760 421 760 422 760 423 760 424 760 425 760 427 760 428 761 283 762 299 762 349 762 360 762 367 762 406 762 407 762 408 762 409 762 410 762 411 762 412 762 413 762 414 762 415 762 416 762 417 762 418 762 419 762 420 762 421 762 422 762 423 762 424 762 425 762 427 762 467 763 268 763 473 764 407 764 408 764 411 764 413 764 415 764 416 764 417 764 418 764 420 764 421 764 422 764 423 764 425 764 426 764 428 764 466 765 268 765 344 765 360 765 464 766 388 766 407 766 408 766 409 766 410 766 411 766 412 766 414 766 415 766 416 766 417 766 418 766 419 766 420 766 421 766 423 766 424 766 425 766 426 766 427 766 430 767 267 767 391 768 407 768 408 768 409 768 410 768 411 768 412 768 413 768 414 768 415 768 416 768 417 768 418 768 419 768 420 768 421 768 423 768 424 768 425 768 427 768 429 768 431 768 432 768 449 769 343 769 356 769 375 769 465 770 265 770 378 770 408 770 410 770 412 770 413 770 414 770 415 770 416 770 417 770 418 770 419 770 420 770 421 770 422 770 423 770 425 770 426 770 428 770 429 770 430 770 432 770 434 770 436 770 441 770 444 771 295 771 302 771 304 771 306 771 309 771 368 771 441 771 473 772 411 772 412 772 414 772 416 772 417 772 419 772 420 772 421 772 422 772 423 772 424 772 425 772 426 772 428 772 429 772 430 772 432 772 433 772 435 772 436 772 437 774 409 774 411 774 412 774 415 774 417 774 419 774 422 774 424 774 426 774 428 774 430 774 431 774 433" fill="none" stroke="none" marker-start="url(#m)" marker-mid="url(#m)" marker-end="url(#m)"/>
<path d="M171.5 106V558.5M171 558.5H805M165 501.5H171M162 445.5H171M165 388.5H171M162 332.5H171M165 276.5H171M162 219.5H171M165 163.5H171M162 106.5H171M162 558.5H171M171.5 558V568M234.5 558V565M298.5 558V568M361.5 558V565M424.5 558V568M488.5 558V565M551.5 558V568M614.5 558V565M678.5 558V568M741.5 558V565M804.5 558V568" stroke="#2a2a2a" stroke-width="1" fill="none" shape-rendering="crispEdges"/>
<g font-family="Liberation Serif, serif" font-size="18" fill="#000">
<text x="159.5" y="565.5" text-anchor="end">0.0</text>
<text x="159.5" y="452.5" text-anchor="end">0.5</text>
<text x="159.5" y="339.5" text-anchor="end">1.0</text>
<text x="159.5" y="226.5" text-anchor="end">1.5</text>
<text x="159.5" y="113.5" text-anchor="end">2.0</text>
<text x="172" y="586" text-anchor="middle">0</text>
<text x="299" y="586" text-anchor="middle">5</text>
<text x="425.5" y="586" text-anchor="middle">10</text>
<text x="552" y="586" text-anchor="middle">15</text>
<text x="679" y="586" text-anchor="middle">20</text>
<text x="805" y="586" text-anchor="middle">25</text>
</g>
<g font-family="Liberation Serif, serif" font-size="20" fill="#000">
<text x="488" y="70.6" text-anchor="middle" xml:space="preserve" style="white-space:pre">Record:  m283a</text>
<text x="488" y="635.9" text-anchor="middle">Time (hour)</text>
<text transform="translate(99.5 333.2) rotate(-90)" x="0" y="0" text-anchor="middle">RR Interval (second)</text>
</g>
</svg></body></html>
